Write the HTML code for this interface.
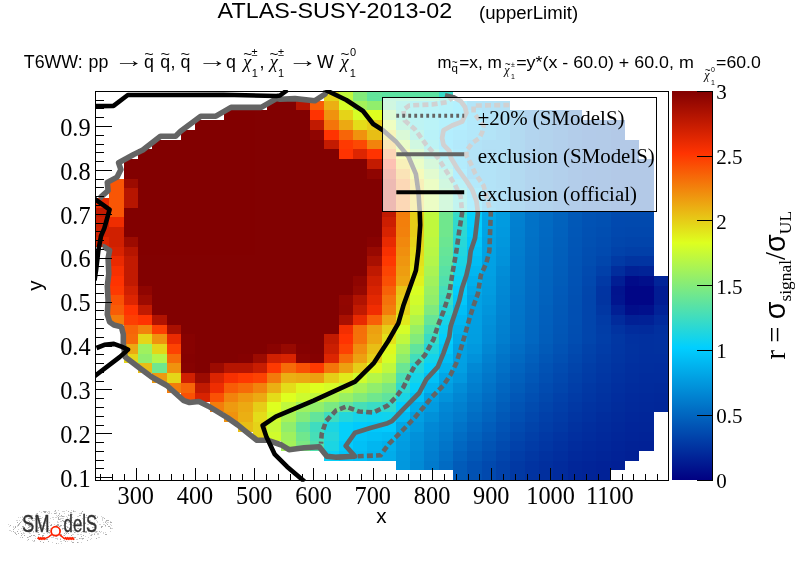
<!DOCTYPE html>
<html><head><meta charset="utf-8"><title>ATLAS-SUSY-2013-02 upperLimit</title>
<style>html,body{margin:0;padding:0;background:#fff}svg{display:block;will-change:transform;opacity:0.9999}.ser{font-family:"Liberation Serif","DejaVu Serif",serif}.san{font-family:"Liberation Sans","DejaVu Sans",sans-serif}</style></head><body>
<svg width="796" height="572" viewBox="0 0 796 572">
<rect x="0" y="0" width="796" height="572" fill="#ffffff"/>
<defs><clipPath id="cp"><rect x="95.0" y="89.9" width="574.0" height="391.8"/></clipPath>
<linearGradient id="pal" x1="0" y1="1" x2="0" y2="0"><stop offset="0" stop-color="#000082"/><stop offset="0.34" stop-color="#00cfff"/><stop offset="0.61" stop-color="#deff1f"/><stop offset="0.84" stop-color="#ff3300"/><stop offset="1" stop-color="#820000"/></linearGradient></defs>
<g shape-rendering="crispEdges">
<rect x="324" y="91" width="15" height="10" fill="#e5d318"/>
<rect x="339" y="91" width="14" height="10" fill="#c0f83d"/>
<rect x="353" y="91" width="14" height="10" fill="#83eb7a"/>
<rect x="367" y="91" width="15" height="10" fill="#63e49b"/>
<rect x="382" y="91" width="57" height="10" fill="#5de3a1"/>
<rect x="439" y="91" width="14" height="10" fill="#37dbc8"/>
<rect x="267" y="101" width="29" height="9" fill="#820000"/>
<rect x="296" y="101" width="14" height="9" fill="#b61500"/>
<rect x="310" y="101" width="14" height="9" fill="#f85c06"/>
<rect x="324" y="101" width="15" height="9" fill="#ebaf13"/>
<rect x="339" y="101" width="14" height="9" fill="#d6fd27"/>
<rect x="353" y="101" width="14" height="9" fill="#a4f259"/>
<rect x="367" y="101" width="15" height="9" fill="#91ee6c"/>
<rect x="382" y="101" width="14" height="9" fill="#63e49b"/>
<rect x="396" y="101" width="14" height="9" fill="#37dbc8"/>
<rect x="410" y="101" width="14" height="9" fill="#24d6db"/>
<rect x="424" y="101" width="15" height="9" fill="#1bd5e3"/>
<rect x="439" y="101" width="14" height="9" fill="#10d2ee"/>
<rect x="453" y="101" width="14" height="9" fill="#03cffc"/>
<rect x="467" y="101" width="15" height="9" fill="#00a8e8"/>
<rect x="482" y="101" width="14" height="9" fill="#00a2e4"/>
<rect x="496" y="101" width="14" height="9" fill="#009ee2"/>
<rect x="224" y="110" width="86" height="10" fill="#820000"/>
<rect x="310" y="110" width="14" height="10" fill="#ff3300"/>
<rect x="324" y="110" width="15" height="10" fill="#f0920e"/>
<rect x="339" y="110" width="14" height="10" fill="#e5d318"/>
<rect x="353" y="110" width="14" height="10" fill="#d6fd27"/>
<rect x="367" y="110" width="15" height="10" fill="#deff1f"/>
<rect x="382" y="110" width="14" height="10" fill="#91ee6c"/>
<rect x="396" y="110" width="14" height="10" fill="#3fdcbf"/>
<rect x="410" y="110" width="14" height="10" fill="#24d6db"/>
<rect x="424" y="110" width="15" height="10" fill="#16d3e9"/>
<rect x="439" y="110" width="14" height="10" fill="#0ed2f1"/>
<rect x="453" y="110" width="14" height="10" fill="#03cffc"/>
<rect x="467" y="110" width="15" height="10" fill="#00bcf4"/>
<rect x="482" y="110" width="14" height="10" fill="#00a2e4"/>
<rect x="496" y="110" width="14" height="10" fill="#0096dd"/>
<rect x="510" y="110" width="15" height="10" fill="#0082d0"/>
<rect x="525" y="110" width="14" height="10" fill="#0073c8"/>
<rect x="539" y="110" width="14" height="10" fill="#006bc3"/>
<rect x="553" y="110" width="15" height="10" fill="#0063be"/>
<rect x="568" y="110" width="14" height="10" fill="#0059b8"/>
<rect x="195" y="120" width="115" height="10" fill="#820000"/>
<rect x="310" y="120" width="14" height="10" fill="#c11a00"/>
<rect x="324" y="120" width="15" height="10" fill="#f4740a"/>
<rect x="339" y="120" width="14" height="10" fill="#eca912"/>
<rect x="353" y="120" width="14" height="10" fill="#e4dc19"/>
<rect x="367" y="120" width="15" height="10" fill="#e6cd17"/>
<rect x="382" y="120" width="14" height="10" fill="#c8fa35"/>
<rect x="396" y="120" width="14" height="10" fill="#55e1a9"/>
<rect x="410" y="120" width="14" height="10" fill="#26d7d8"/>
<rect x="424" y="120" width="15" height="10" fill="#1bd5e3"/>
<rect x="439" y="120" width="14" height="10" fill="#0bd1f4"/>
<rect x="453" y="120" width="14" height="10" fill="#00c6fa"/>
<rect x="467" y="120" width="15" height="10" fill="#00b6f0"/>
<rect x="482" y="120" width="14" height="10" fill="#00a4e5"/>
<rect x="496" y="120" width="14" height="10" fill="#0098de"/>
<rect x="510" y="120" width="15" height="10" fill="#0082d0"/>
<rect x="525" y="120" width="14" height="10" fill="#0073c8"/>
<rect x="539" y="120" width="14" height="10" fill="#006bc3"/>
<rect x="553" y="120" width="15" height="10" fill="#0063be"/>
<rect x="568" y="120" width="14" height="10" fill="#0059b8"/>
<rect x="582" y="120" width="14" height="10" fill="#0053b4"/>
<rect x="596" y="120" width="15" height="10" fill="#0051b3"/>
<rect x="611" y="120" width="14" height="10" fill="#004baf"/>
<rect x="181" y="130" width="129" height="10" fill="#820000"/>
<rect x="310" y="130" width="14" height="10" fill="#8f0500"/>
<rect x="324" y="130" width="15" height="10" fill="#ff3300"/>
<rect x="339" y="130" width="14" height="10" fill="#f76508"/>
<rect x="353" y="130" width="14" height="10" fill="#f0920e"/>
<rect x="367" y="130" width="15" height="10" fill="#e8be15"/>
<rect x="382" y="130" width="14" height="10" fill="#e4dc19"/>
<rect x="396" y="130" width="14" height="10" fill="#83eb7a"/>
<rect x="410" y="130" width="14" height="10" fill="#3fdcbf"/>
<rect x="424" y="130" width="15" height="10" fill="#16d3e9"/>
<rect x="439" y="130" width="14" height="10" fill="#00c6fa"/>
<rect x="453" y="130" width="14" height="10" fill="#00bcf4"/>
<rect x="467" y="130" width="15" height="10" fill="#00b2ee"/>
<rect x="482" y="130" width="14" height="10" fill="#00a4e5"/>
<rect x="496" y="130" width="14" height="10" fill="#0098de"/>
<rect x="510" y="130" width="15" height="10" fill="#0082d0"/>
<rect x="525" y="130" width="14" height="10" fill="#0073c8"/>
<rect x="539" y="130" width="14" height="10" fill="#006bc3"/>
<rect x="553" y="130" width="15" height="10" fill="#0063be"/>
<rect x="568" y="130" width="14" height="10" fill="#0059b8"/>
<rect x="582" y="130" width="14" height="10" fill="#0053b4"/>
<rect x="596" y="130" width="15" height="10" fill="#0051b3"/>
<rect x="611" y="130" width="14" height="10" fill="#004baf"/>
<rect x="152" y="140" width="172" height="9" fill="#820000"/>
<rect x="324" y="140" width="15" height="9" fill="#c31b00"/>
<rect x="339" y="140" width="14" height="9" fill="#fe3901"/>
<rect x="353" y="140" width="14" height="9" fill="#fc4803"/>
<rect x="367" y="140" width="15" height="9" fill="#f2830c"/>
<rect x="382" y="140" width="14" height="9" fill="#ebaf13"/>
<rect x="396" y="140" width="14" height="9" fill="#b5f648"/>
<rect x="410" y="140" width="14" height="9" fill="#63e49b"/>
<rect x="424" y="140" width="15" height="9" fill="#24d6db"/>
<rect x="439" y="140" width="14" height="9" fill="#00c6fa"/>
<rect x="453" y="140" width="14" height="9" fill="#00b6f0"/>
<rect x="467" y="140" width="15" height="9" fill="#00a2e4"/>
<rect x="482" y="140" width="14" height="9" fill="#0096dd"/>
<rect x="496" y="140" width="14" height="9" fill="#0098de"/>
<rect x="510" y="140" width="15" height="9" fill="#0082d0"/>
<rect x="525" y="140" width="14" height="9" fill="#0073c8"/>
<rect x="539" y="140" width="14" height="9" fill="#006bc3"/>
<rect x="553" y="140" width="15" height="9" fill="#0063be"/>
<rect x="568" y="140" width="14" height="9" fill="#0059b8"/>
<rect x="582" y="140" width="14" height="9" fill="#0053b4"/>
<rect x="596" y="140" width="15" height="9" fill="#0051b3"/>
<rect x="611" y="140" width="28" height="9" fill="#004baf"/>
<rect x="138" y="149" width="201" height="10" fill="#820000"/>
<rect x="339" y="149" width="14" height="10" fill="#ff3300"/>
<rect x="353" y="149" width="14" height="10" fill="#dd2500"/>
<rect x="367" y="149" width="15" height="10" fill="#ff3300"/>
<rect x="382" y="149" width="14" height="10" fill="#f4740a"/>
<rect x="396" y="149" width="14" height="10" fill="#dff91e"/>
<rect x="410" y="149" width="14" height="10" fill="#91ee6c"/>
<rect x="424" y="149" width="15" height="10" fill="#47deb7"/>
<rect x="439" y="149" width="14" height="10" fill="#10d2ee"/>
<rect x="453" y="149" width="14" height="10" fill="#00bcf4"/>
<rect x="467" y="149" width="15" height="10" fill="#00a2e4"/>
<rect x="482" y="149" width="14" height="10" fill="#0094db"/>
<rect x="496" y="149" width="14" height="10" fill="#0098de"/>
<rect x="510" y="149" width="15" height="10" fill="#0082d0"/>
<rect x="525" y="149" width="14" height="10" fill="#0073c8"/>
<rect x="539" y="149" width="14" height="10" fill="#006bc3"/>
<rect x="553" y="149" width="15" height="10" fill="#0063be"/>
<rect x="568" y="149" width="14" height="10" fill="#0059b8"/>
<rect x="582" y="149" width="14" height="10" fill="#0053b4"/>
<rect x="596" y="149" width="15" height="10" fill="#0051b3"/>
<rect x="611" y="149" width="28" height="10" fill="#004baf"/>
<rect x="124" y="159" width="243" height="10" fill="#820000"/>
<rect x="367" y="159" width="15" height="10" fill="#c31b00"/>
<rect x="382" y="159" width="14" height="10" fill="#f73000"/>
<rect x="396" y="159" width="14" height="10" fill="#e6cd17"/>
<rect x="410" y="159" width="14" height="10" fill="#baf743"/>
<rect x="424" y="159" width="15" height="10" fill="#76e888"/>
<rect x="439" y="159" width="14" height="10" fill="#29d8d5"/>
<rect x="453" y="159" width="14" height="10" fill="#00bcf4"/>
<rect x="467" y="159" width="29" height="10" fill="#00a2e4"/>
<rect x="496" y="159" width="14" height="10" fill="#0098de"/>
<rect x="510" y="159" width="15" height="10" fill="#0082d0"/>
<rect x="525" y="159" width="14" height="10" fill="#0073c8"/>
<rect x="539" y="159" width="14" height="10" fill="#006bc3"/>
<rect x="553" y="159" width="15" height="10" fill="#0063be"/>
<rect x="568" y="159" width="14" height="10" fill="#0059b8"/>
<rect x="582" y="159" width="14" height="10" fill="#0053b4"/>
<rect x="596" y="159" width="15" height="10" fill="#0051b3"/>
<rect x="611" y="159" width="43" height="10" fill="#004baf"/>
<rect x="124" y="169" width="243" height="10" fill="#820000"/>
<rect x="367" y="169" width="15" height="10" fill="#8f0500"/>
<rect x="382" y="169" width="14" height="10" fill="#d52200"/>
<rect x="396" y="169" width="14" height="10" fill="#eda010"/>
<rect x="410" y="169" width="14" height="10" fill="#e0f01c"/>
<rect x="424" y="169" width="15" height="10" fill="#9ff15e"/>
<rect x="439" y="169" width="14" height="10" fill="#51e0ad"/>
<rect x="453" y="169" width="14" height="10" fill="#00cafd"/>
<rect x="467" y="169" width="29" height="10" fill="#00a2e4"/>
<rect x="496" y="169" width="14" height="10" fill="#0098de"/>
<rect x="510" y="169" width="15" height="10" fill="#0082d0"/>
<rect x="525" y="169" width="14" height="10" fill="#0073c8"/>
<rect x="539" y="169" width="14" height="10" fill="#006bc3"/>
<rect x="553" y="169" width="15" height="10" fill="#0063be"/>
<rect x="568" y="169" width="14" height="10" fill="#0059b8"/>
<rect x="582" y="169" width="14" height="10" fill="#0053b4"/>
<rect x="596" y="169" width="15" height="10" fill="#0051b3"/>
<rect x="611" y="169" width="43" height="10" fill="#004baf"/>
<rect x="109" y="179" width="15" height="9" fill="#f95605"/>
<rect x="124" y="179" width="14" height="9" fill="#9c0b00"/>
<rect x="138" y="179" width="244" height="9" fill="#820000"/>
<rect x="382" y="179" width="14" height="9" fill="#c11a00"/>
<rect x="396" y="179" width="14" height="9" fill="#f37d0b"/>
<rect x="410" y="179" width="14" height="9" fill="#e6cd17"/>
<rect x="424" y="179" width="15" height="9" fill="#c0f83d"/>
<rect x="439" y="179" width="14" height="9" fill="#67e597"/>
<rect x="453" y="179" width="14" height="9" fill="#19d4e6"/>
<rect x="467" y="179" width="15" height="9" fill="#00b6f0"/>
<rect x="482" y="179" width="14" height="9" fill="#00a2e4"/>
<rect x="496" y="179" width="14" height="9" fill="#0098de"/>
<rect x="510" y="179" width="15" height="9" fill="#0082d0"/>
<rect x="525" y="179" width="14" height="9" fill="#0073c8"/>
<rect x="539" y="179" width="14" height="9" fill="#006bc3"/>
<rect x="553" y="179" width="15" height="9" fill="#0063be"/>
<rect x="568" y="179" width="14" height="9" fill="#0059b8"/>
<rect x="582" y="179" width="14" height="9" fill="#0053b4"/>
<rect x="596" y="179" width="15" height="9" fill="#0051b3"/>
<rect x="611" y="179" width="43" height="9" fill="#004baf"/>
<rect x="109" y="188" width="15" height="10" fill="#f95605"/>
<rect x="124" y="188" width="14" height="10" fill="#b61500"/>
<rect x="138" y="188" width="244" height="10" fill="#820000"/>
<rect x="382" y="188" width="14" height="10" fill="#c11a00"/>
<rect x="396" y="188" width="14" height="10" fill="#f37d0b"/>
<rect x="410" y="188" width="14" height="10" fill="#e6cd17"/>
<rect x="424" y="188" width="15" height="10" fill="#c0f83d"/>
<rect x="439" y="188" width="14" height="10" fill="#70e78d"/>
<rect x="453" y="188" width="14" height="10" fill="#2cd8d3"/>
<rect x="467" y="188" width="15" height="10" fill="#00c5f9"/>
<rect x="482" y="188" width="14" height="10" fill="#00a2e4"/>
<rect x="496" y="188" width="14" height="10" fill="#0099df"/>
<rect x="510" y="188" width="15" height="10" fill="#0082d0"/>
<rect x="525" y="188" width="14" height="10" fill="#0073c8"/>
<rect x="539" y="188" width="14" height="10" fill="#006bc3"/>
<rect x="553" y="188" width="15" height="10" fill="#0063be"/>
<rect x="568" y="188" width="14" height="10" fill="#0059b8"/>
<rect x="582" y="188" width="14" height="10" fill="#0053b4"/>
<rect x="596" y="188" width="15" height="10" fill="#0051b3"/>
<rect x="611" y="188" width="43" height="10" fill="#004baf"/>
<rect x="95" y="198" width="14" height="10" fill="#ea2a00"/>
<rect x="109" y="198" width="15" height="10" fill="#f95605"/>
<rect x="124" y="198" width="14" height="10" fill="#b61500"/>
<rect x="138" y="198" width="244" height="10" fill="#820000"/>
<rect x="382" y="198" width="14" height="10" fill="#c11a00"/>
<rect x="396" y="198" width="14" height="10" fill="#f37d0b"/>
<rect x="410" y="198" width="14" height="10" fill="#e6cd17"/>
<rect x="424" y="198" width="15" height="10" fill="#c0f83d"/>
<rect x="439" y="198" width="14" height="10" fill="#70e78d"/>
<rect x="453" y="198" width="14" height="10" fill="#31d9cd"/>
<rect x="467" y="198" width="15" height="10" fill="#00ceff"/>
<rect x="482" y="198" width="14" height="10" fill="#00a2e4"/>
<rect x="496" y="198" width="14" height="10" fill="#009be0"/>
<rect x="510" y="198" width="15" height="10" fill="#0082d0"/>
<rect x="525" y="198" width="14" height="10" fill="#0073c8"/>
<rect x="539" y="198" width="14" height="10" fill="#006bc3"/>
<rect x="553" y="198" width="15" height="10" fill="#0063be"/>
<rect x="568" y="198" width="14" height="10" fill="#0059b8"/>
<rect x="582" y="198" width="14" height="10" fill="#0053b4"/>
<rect x="596" y="198" width="15" height="10" fill="#0051b3"/>
<rect x="611" y="198" width="43" height="10" fill="#004baf"/>
<rect x="95" y="208" width="14" height="9" fill="#c11a00"/>
<rect x="109" y="208" width="15" height="9" fill="#f95605"/>
<rect x="124" y="208" width="258" height="9" fill="#820000"/>
<rect x="382" y="208" width="14" height="9" fill="#c11a00"/>
<rect x="396" y="208" width="14" height="9" fill="#f37d0b"/>
<rect x="410" y="208" width="14" height="9" fill="#e6cd17"/>
<rect x="424" y="208" width="15" height="9" fill="#c0f83d"/>
<rect x="439" y="208" width="14" height="9" fill="#70e78d"/>
<rect x="453" y="208" width="14" height="9" fill="#37dbc7"/>
<rect x="467" y="208" width="15" height="9" fill="#04d0fa"/>
<rect x="482" y="208" width="14" height="9" fill="#00a7e7"/>
<rect x="496" y="208" width="14" height="9" fill="#009ce0"/>
<rect x="510" y="208" width="15" height="9" fill="#0082d0"/>
<rect x="525" y="208" width="14" height="9" fill="#0073c8"/>
<rect x="539" y="208" width="14" height="9" fill="#006bc3"/>
<rect x="553" y="208" width="15" height="9" fill="#0063be"/>
<rect x="568" y="208" width="14" height="9" fill="#0059b8"/>
<rect x="582" y="208" width="14" height="9" fill="#0053b4"/>
<rect x="596" y="208" width="15" height="9" fill="#0051b3"/>
<rect x="611" y="208" width="43" height="9" fill="#004baf"/>
<rect x="95" y="217" width="14" height="10" fill="#cb1e00"/>
<rect x="109" y="217" width="15" height="10" fill="#ef2d00"/>
<rect x="124" y="217" width="258" height="10" fill="#820000"/>
<rect x="382" y="217" width="14" height="10" fill="#cc1e00"/>
<rect x="396" y="217" width="14" height="10" fill="#f37f0b"/>
<rect x="410" y="217" width="14" height="10" fill="#e6cd17"/>
<rect x="424" y="217" width="15" height="10" fill="#c0f83d"/>
<rect x="439" y="217" width="14" height="10" fill="#70e78d"/>
<rect x="453" y="217" width="14" height="10" fill="#31d9cd"/>
<rect x="467" y="217" width="15" height="10" fill="#01cffe"/>
<rect x="482" y="217" width="14" height="10" fill="#00a5e6"/>
<rect x="496" y="217" width="14" height="10" fill="#009be0"/>
<rect x="510" y="217" width="15" height="10" fill="#0080d0"/>
<rect x="525" y="217" width="14" height="10" fill="#0072c7"/>
<rect x="539" y="217" width="14" height="10" fill="#006ac2"/>
<rect x="553" y="217" width="15" height="10" fill="#0062bd"/>
<rect x="568" y="217" width="14" height="10" fill="#0058b7"/>
<rect x="582" y="217" width="14" height="10" fill="#0052b4"/>
<rect x="596" y="217" width="15" height="10" fill="#0050b2"/>
<rect x="611" y="217" width="14" height="10" fill="#0049af"/>
<rect x="625" y="217" width="29" height="10" fill="#0049ae"/>
<rect x="95" y="227" width="29" height="10" fill="#d02000"/>
<rect x="124" y="227" width="258" height="10" fill="#820000"/>
<rect x="382" y="227" width="14" height="10" fill="#d72300"/>
<rect x="396" y="227" width="14" height="10" fill="#f2810c"/>
<rect x="410" y="227" width="14" height="10" fill="#e6cd17"/>
<rect x="424" y="227" width="15" height="10" fill="#c0f83d"/>
<rect x="439" y="227" width="14" height="10" fill="#70e78d"/>
<rect x="453" y="227" width="14" height="10" fill="#2dd8d2"/>
<rect x="467" y="227" width="15" height="10" fill="#00ccfe"/>
<rect x="482" y="227" width="14" height="10" fill="#00a4e5"/>
<rect x="496" y="227" width="14" height="10" fill="#0099df"/>
<rect x="510" y="227" width="15" height="10" fill="#007fcf"/>
<rect x="525" y="227" width="14" height="10" fill="#0072c7"/>
<rect x="539" y="227" width="14" height="10" fill="#0069c2"/>
<rect x="553" y="227" width="15" height="10" fill="#0061bd"/>
<rect x="568" y="227" width="14" height="10" fill="#0057b7"/>
<rect x="582" y="227" width="14" height="10" fill="#0051b3"/>
<rect x="596" y="227" width="15" height="10" fill="#004eb1"/>
<rect x="611" y="227" width="14" height="10" fill="#0048ae"/>
<rect x="625" y="227" width="29" height="10" fill="#0047ad"/>
<rect x="95" y="237" width="14" height="10" fill="#e02600"/>
<rect x="109" y="237" width="15" height="10" fill="#d02000"/>
<rect x="124" y="237" width="14" height="10" fill="#9c0b00"/>
<rect x="138" y="237" width="229" height="10" fill="#820000"/>
<rect x="367" y="237" width="15" height="10" fill="#880200"/>
<rect x="382" y="237" width="14" height="10" fill="#e82a00"/>
<rect x="396" y="237" width="14" height="10" fill="#f1880d"/>
<rect x="410" y="237" width="14" height="10" fill="#e5d318"/>
<rect x="424" y="237" width="15" height="10" fill="#bcf841"/>
<rect x="439" y="237" width="14" height="10" fill="#6be692"/>
<rect x="453" y="237" width="14" height="10" fill="#27d7d7"/>
<rect x="467" y="237" width="15" height="10" fill="#00c7fa"/>
<rect x="482" y="237" width="14" height="10" fill="#00a2e4"/>
<rect x="496" y="237" width="14" height="10" fill="#0097dd"/>
<rect x="510" y="237" width="15" height="10" fill="#007ece"/>
<rect x="525" y="237" width="14" height="10" fill="#0071c6"/>
<rect x="539" y="237" width="14" height="10" fill="#0068c1"/>
<rect x="553" y="237" width="15" height="10" fill="#0060bc"/>
<rect x="568" y="237" width="14" height="10" fill="#0056b6"/>
<rect x="582" y="237" width="14" height="10" fill="#0050b2"/>
<rect x="596" y="237" width="15" height="10" fill="#004cb0"/>
<rect x="611" y="237" width="14" height="10" fill="#0046ac"/>
<rect x="625" y="237" width="29" height="10" fill="#0044ab"/>
<rect x="109" y="247" width="15" height="9" fill="#d82300"/>
<rect x="124" y="247" width="14" height="9" fill="#b61500"/>
<rect x="138" y="247" width="229" height="9" fill="#820000"/>
<rect x="367" y="247" width="15" height="9" fill="#980900"/>
<rect x="382" y="247" width="14" height="9" fill="#f73000"/>
<rect x="396" y="247" width="14" height="9" fill="#f08f0e"/>
<rect x="410" y="247" width="14" height="9" fill="#e4da19"/>
<rect x="424" y="247" width="15" height="9" fill="#b8f745"/>
<rect x="439" y="247" width="14" height="9" fill="#66e598"/>
<rect x="453" y="247" width="14" height="9" fill="#22d6dd"/>
<rect x="467" y="247" width="15" height="9" fill="#00c2f7"/>
<rect x="482" y="247" width="14" height="9" fill="#00a2e4"/>
<rect x="496" y="247" width="14" height="9" fill="#0094dc"/>
<rect x="510" y="247" width="15" height="9" fill="#007dcd"/>
<rect x="525" y="247" width="14" height="9" fill="#0070c6"/>
<rect x="539" y="247" width="14" height="9" fill="#0067c0"/>
<rect x="553" y="247" width="15" height="9" fill="#005fbb"/>
<rect x="568" y="247" width="14" height="9" fill="#0055b6"/>
<rect x="582" y="247" width="14" height="9" fill="#004eb1"/>
<rect x="596" y="247" width="15" height="9" fill="#004aaf"/>
<rect x="611" y="247" width="14" height="9" fill="#0042aa"/>
<rect x="625" y="247" width="29" height="9" fill="#003fa8"/>
<rect x="109" y="256" width="15" height="10" fill="#ea2a00"/>
<rect x="124" y="256" width="14" height="10" fill="#c11a00"/>
<rect x="138" y="256" width="229" height="10" fill="#820000"/>
<rect x="367" y="256" width="15" height="10" fill="#a81000"/>
<rect x="382" y="256" width="14" height="10" fill="#fe3801"/>
<rect x="396" y="256" width="14" height="10" fill="#ef960f"/>
<rect x="410" y="256" width="14" height="10" fill="#e3e01a"/>
<rect x="424" y="256" width="15" height="10" fill="#b3f64a"/>
<rect x="439" y="256" width="14" height="10" fill="#61e49d"/>
<rect x="453" y="256" width="14" height="10" fill="#1bd5e3"/>
<rect x="467" y="256" width="15" height="10" fill="#00bdf4"/>
<rect x="482" y="256" width="14" height="10" fill="#00a1e4"/>
<rect x="496" y="256" width="14" height="10" fill="#0092da"/>
<rect x="510" y="256" width="15" height="10" fill="#007bcd"/>
<rect x="525" y="256" width="14" height="10" fill="#006fc5"/>
<rect x="539" y="256" width="14" height="10" fill="#0066c0"/>
<rect x="553" y="256" width="15" height="10" fill="#005ebb"/>
<rect x="568" y="256" width="14" height="10" fill="#0054b5"/>
<rect x="582" y="256" width="14" height="10" fill="#004db0"/>
<rect x="596" y="256" width="15" height="10" fill="#0046ac"/>
<rect x="611" y="256" width="14" height="10" fill="#003aa5"/>
<rect x="625" y="256" width="14" height="10" fill="#0034a1"/>
<rect x="639" y="256" width="15" height="10" fill="#0034a2"/>
<rect x="109" y="266" width="15" height="10" fill="#f73000"/>
<rect x="124" y="266" width="14" height="10" fill="#c11a00"/>
<rect x="138" y="266" width="229" height="10" fill="#820000"/>
<rect x="367" y="266" width="15" height="10" fill="#bf1900"/>
<rect x="382" y="266" width="14" height="10" fill="#fc4403"/>
<rect x="396" y="266" width="14" height="10" fill="#ee9d10"/>
<rect x="410" y="266" width="14" height="10" fill="#e1e91b"/>
<rect x="424" y="266" width="15" height="10" fill="#aaf453"/>
<rect x="439" y="266" width="14" height="10" fill="#59e2a5"/>
<rect x="453" y="266" width="14" height="10" fill="#13d3ec"/>
<rect x="467" y="266" width="15" height="10" fill="#00b6f0"/>
<rect x="482" y="266" width="14" height="10" fill="#00a0e3"/>
<rect x="496" y="266" width="14" height="10" fill="#008dd7"/>
<rect x="510" y="266" width="15" height="10" fill="#007acc"/>
<rect x="525" y="266" width="14" height="10" fill="#006ec4"/>
<rect x="539" y="266" width="14" height="10" fill="#0065bf"/>
<rect x="553" y="266" width="15" height="10" fill="#005dba"/>
<rect x="568" y="266" width="14" height="10" fill="#0053b4"/>
<rect x="582" y="266" width="14" height="10" fill="#004aaf"/>
<rect x="596" y="266" width="15" height="10" fill="#0040a9"/>
<rect x="611" y="266" width="14" height="10" fill="#002d9d"/>
<rect x="625" y="266" width="14" height="10" fill="#002196"/>
<rect x="639" y="266" width="15" height="10" fill="#002397"/>
<rect x="109" y="276" width="15" height="10" fill="#ff3300"/>
<rect x="124" y="276" width="14" height="10" fill="#c11a00"/>
<rect x="138" y="276" width="215" height="10" fill="#820000"/>
<rect x="353" y="276" width="14" height="10" fill="#8f0500"/>
<rect x="367" y="276" width="15" height="10" fill="#ce1f00"/>
<rect x="382" y="276" width="14" height="10" fill="#fa4f04"/>
<rect x="396" y="276" width="14" height="10" fill="#eda511"/>
<rect x="410" y="276" width="14" height="10" fill="#e0f21d"/>
<rect x="424" y="276" width="15" height="10" fill="#a1f25c"/>
<rect x="439" y="276" width="14" height="10" fill="#51e0ad"/>
<rect x="453" y="276" width="14" height="10" fill="#0ad1f5"/>
<rect x="467" y="276" width="15" height="10" fill="#00afec"/>
<rect x="482" y="276" width="14" height="10" fill="#009ee1"/>
<rect x="496" y="276" width="14" height="10" fill="#008ad5"/>
<rect x="510" y="276" width="15" height="10" fill="#0079cb"/>
<rect x="525" y="276" width="14" height="10" fill="#006dc4"/>
<rect x="539" y="276" width="14" height="10" fill="#0064be"/>
<rect x="553" y="276" width="15" height="10" fill="#005cb9"/>
<rect x="568" y="276" width="14" height="10" fill="#0052b4"/>
<rect x="582" y="276" width="14" height="10" fill="#0048ae"/>
<rect x="596" y="276" width="15" height="10" fill="#0039a5"/>
<rect x="611" y="276" width="14" height="10" fill="#001e94"/>
<rect x="625" y="276" width="14" height="10" fill="#000b89"/>
<rect x="639" y="276" width="15" height="10" fill="#000f8b"/>
<rect x="654" y="276" width="14" height="10" fill="#002498"/>
<rect x="109" y="286" width="15" height="9" fill="#fe3901"/>
<rect x="124" y="286" width="14" height="9" fill="#d02000"/>
<rect x="138" y="286" width="14" height="9" fill="#8f0500"/>
<rect x="152" y="286" width="201" height="9" fill="#820000"/>
<rect x="353" y="286" width="14" height="9" fill="#950800"/>
<rect x="367" y="286" width="15" height="9" fill="#d82300"/>
<rect x="382" y="286" width="14" height="9" fill="#f76107"/>
<rect x="396" y="286" width="14" height="9" fill="#e8c316"/>
<rect x="410" y="286" width="14" height="9" fill="#d9fe23"/>
<rect x="424" y="286" width="15" height="9" fill="#98f065"/>
<rect x="439" y="286" width="14" height="9" fill="#45deba"/>
<rect x="453" y="286" width="14" height="9" fill="#00cdfe"/>
<rect x="467" y="286" width="15" height="9" fill="#00a9e8"/>
<rect x="482" y="286" width="14" height="9" fill="#009ce0"/>
<rect x="496" y="286" width="14" height="9" fill="#0088d4"/>
<rect x="510" y="286" width="15" height="9" fill="#0078ca"/>
<rect x="525" y="286" width="14" height="9" fill="#006cc3"/>
<rect x="539" y="286" width="14" height="9" fill="#0063be"/>
<rect x="553" y="286" width="15" height="9" fill="#005ab9"/>
<rect x="568" y="286" width="14" height="9" fill="#0051b3"/>
<rect x="582" y="286" width="14" height="9" fill="#0046ac"/>
<rect x="596" y="286" width="15" height="9" fill="#0034a2"/>
<rect x="611" y="286" width="14" height="9" fill="#00148e"/>
<rect x="625" y="286" width="29" height="9" fill="#000686"/>
<rect x="654" y="286" width="14" height="9" fill="#001c93"/>
<rect x="109" y="295" width="15" height="10" fill="#fa5104"/>
<rect x="124" y="295" width="14" height="10" fill="#dd2500"/>
<rect x="138" y="295" width="14" height="10" fill="#9c0b00"/>
<rect x="152" y="295" width="187" height="10" fill="#820000"/>
<rect x="339" y="295" width="14" height="10" fill="#920600"/>
<rect x="353" y="295" width="14" height="10" fill="#b11300"/>
<rect x="367" y="295" width="15" height="10" fill="#e32800"/>
<rect x="382" y="295" width="14" height="10" fill="#f5720a"/>
<rect x="396" y="295" width="14" height="10" fill="#e6cd17"/>
<rect x="410" y="295" width="14" height="10" fill="#d1fc2b"/>
<rect x="424" y="295" width="15" height="10" fill="#91ee6c"/>
<rect x="439" y="295" width="14" height="10" fill="#3cdcc3"/>
<rect x="453" y="295" width="14" height="10" fill="#00c7fa"/>
<rect x="467" y="295" width="15" height="10" fill="#00a2e4"/>
<rect x="482" y="295" width="14" height="10" fill="#0099de"/>
<rect x="496" y="295" width="14" height="10" fill="#0086d3"/>
<rect x="510" y="295" width="15" height="10" fill="#0076ca"/>
<rect x="525" y="295" width="14" height="10" fill="#006bc3"/>
<rect x="539" y="295" width="14" height="10" fill="#0062bd"/>
<rect x="553" y="295" width="15" height="10" fill="#0059b8"/>
<rect x="568" y="295" width="14" height="10" fill="#0050b2"/>
<rect x="582" y="295" width="14" height="10" fill="#0045ac"/>
<rect x="596" y="295" width="15" height="10" fill="#0034a1"/>
<rect x="611" y="295" width="14" height="10" fill="#00158f"/>
<rect x="625" y="295" width="29" height="10" fill="#000686"/>
<rect x="654" y="295" width="14" height="10" fill="#001c93"/>
<rect x="109" y="305" width="15" height="10" fill="#f85c06"/>
<rect x="124" y="305" width="14" height="10" fill="#ff3300"/>
<rect x="138" y="305" width="14" height="10" fill="#c11a00"/>
<rect x="152" y="305" width="187" height="10" fill="#820000"/>
<rect x="339" y="305" width="14" height="10" fill="#900600"/>
<rect x="353" y="305" width="14" height="10" fill="#c11a00"/>
<rect x="367" y="305" width="15" height="10" fill="#f12d00"/>
<rect x="382" y="305" width="14" height="10" fill="#f37d0b"/>
<rect x="396" y="305" width="14" height="10" fill="#e5d418"/>
<rect x="410" y="305" width="14" height="10" fill="#c6fa37"/>
<rect x="424" y="305" width="15" height="10" fill="#7fea7f"/>
<rect x="439" y="305" width="14" height="10" fill="#27d7d8"/>
<rect x="453" y="305" width="14" height="10" fill="#00bef5"/>
<rect x="467" y="305" width="15" height="10" fill="#00a1e4"/>
<rect x="482" y="305" width="14" height="10" fill="#0095dc"/>
<rect x="496" y="305" width="14" height="10" fill="#0084d2"/>
<rect x="510" y="305" width="15" height="10" fill="#0075c9"/>
<rect x="525" y="305" width="14" height="10" fill="#006ac2"/>
<rect x="539" y="305" width="14" height="10" fill="#0060bc"/>
<rect x="553" y="305" width="15" height="10" fill="#0058b7"/>
<rect x="568" y="305" width="14" height="10" fill="#004fb2"/>
<rect x="582" y="305" width="14" height="10" fill="#0045ac"/>
<rect x="596" y="305" width="15" height="10" fill="#0037a3"/>
<rect x="611" y="305" width="14" height="10" fill="#001f95"/>
<rect x="625" y="305" width="14" height="10" fill="#000e8a"/>
<rect x="639" y="305" width="15" height="10" fill="#00108c"/>
<rect x="654" y="305" width="14" height="10" fill="#002297"/>
<rect x="109" y="315" width="15" height="10" fill="#f37d0b"/>
<rect x="124" y="315" width="14" height="10" fill="#fd3f02"/>
<rect x="138" y="315" width="14" height="10" fill="#ff3300"/>
<rect x="152" y="315" width="15" height="10" fill="#b11300"/>
<rect x="167" y="315" width="172" height="10" fill="#820000"/>
<rect x="339" y="315" width="14" height="10" fill="#a91000"/>
<rect x="353" y="315" width="14" height="10" fill="#e82a00"/>
<rect x="367" y="315" width="15" height="10" fill="#f85f07"/>
<rect x="382" y="315" width="14" height="10" fill="#eda511"/>
<rect x="396" y="315" width="14" height="10" fill="#e2e81b"/>
<rect x="410" y="315" width="14" height="10" fill="#b1f54c"/>
<rect x="424" y="315" width="15" height="10" fill="#67e597"/>
<rect x="439" y="315" width="14" height="10" fill="#18d4e7"/>
<rect x="453" y="315" width="14" height="10" fill="#00b7f1"/>
<rect x="467" y="315" width="15" height="10" fill="#00a0e3"/>
<rect x="482" y="315" width="14" height="10" fill="#0091da"/>
<rect x="496" y="315" width="14" height="10" fill="#0082d0"/>
<rect x="510" y="315" width="15" height="10" fill="#0074c8"/>
<rect x="525" y="315" width="14" height="10" fill="#0069c2"/>
<rect x="539" y="315" width="14" height="10" fill="#005fbc"/>
<rect x="553" y="315" width="15" height="10" fill="#0057b7"/>
<rect x="568" y="315" width="14" height="10" fill="#004fb2"/>
<rect x="582" y="315" width="14" height="10" fill="#0045ac"/>
<rect x="596" y="315" width="15" height="10" fill="#003ba6"/>
<rect x="611" y="315" width="14" height="10" fill="#002b9c"/>
<rect x="625" y="315" width="14" height="10" fill="#002095"/>
<rect x="639" y="315" width="15" height="10" fill="#002196"/>
<rect x="654" y="315" width="14" height="10" fill="#002a9c"/>
<rect x="124" y="325" width="14" height="9" fill="#f76508"/>
<rect x="138" y="325" width="14" height="9" fill="#f2830c"/>
<rect x="152" y="325" width="15" height="9" fill="#fd3f02"/>
<rect x="167" y="325" width="14" height="9" fill="#a91000"/>
<rect x="181" y="325" width="158" height="9" fill="#820000"/>
<rect x="339" y="325" width="14" height="9" fill="#f32e00"/>
<rect x="353" y="325" width="14" height="9" fill="#f56f09"/>
<rect x="367" y="325" width="15" height="9" fill="#eda010"/>
<rect x="382" y="325" width="14" height="9" fill="#e6cd17"/>
<rect x="396" y="325" width="14" height="9" fill="#d6fd27"/>
<rect x="410" y="325" width="14" height="9" fill="#98f065"/>
<rect x="424" y="325" width="15" height="9" fill="#4fe0af"/>
<rect x="439" y="325" width="14" height="9" fill="#0cd1f3"/>
<rect x="453" y="325" width="14" height="9" fill="#00b1ed"/>
<rect x="467" y="325" width="15" height="9" fill="#009fe2"/>
<rect x="482" y="325" width="14" height="9" fill="#008ed8"/>
<rect x="496" y="325" width="14" height="9" fill="#0080cf"/>
<rect x="510" y="325" width="15" height="9" fill="#0073c7"/>
<rect x="525" y="325" width="14" height="9" fill="#0068c1"/>
<rect x="539" y="325" width="14" height="9" fill="#005ebb"/>
<rect x="553" y="325" width="15" height="9" fill="#0056b6"/>
<rect x="568" y="325" width="14" height="9" fill="#004eb1"/>
<rect x="582" y="325" width="14" height="9" fill="#0045ac"/>
<rect x="596" y="325" width="15" height="9" fill="#003da7"/>
<rect x="611" y="325" width="14" height="9" fill="#0033a1"/>
<rect x="625" y="325" width="14" height="9" fill="#002c9d"/>
<rect x="639" y="325" width="15" height="9" fill="#002b9c"/>
<rect x="654" y="325" width="14" height="9" fill="#00309f"/>
<rect x="124" y="334" width="14" height="10" fill="#f66b08"/>
<rect x="138" y="334" width="14" height="10" fill="#e5d618"/>
<rect x="152" y="334" width="15" height="10" fill="#f0920e"/>
<rect x="167" y="334" width="14" height="10" fill="#ea2a00"/>
<rect x="181" y="334" width="14" height="10" fill="#870200"/>
<rect x="195" y="334" width="129" height="10" fill="#820000"/>
<rect x="324" y="334" width="15" height="10" fill="#c11a00"/>
<rect x="339" y="334" width="14" height="10" fill="#ff3300"/>
<rect x="353" y="334" width="14" height="10" fill="#f57109"/>
<rect x="367" y="334" width="15" height="10" fill="#eca711"/>
<rect x="382" y="334" width="14" height="10" fill="#e3e01a"/>
<rect x="396" y="334" width="14" height="10" fill="#c0f83d"/>
<rect x="410" y="334" width="14" height="10" fill="#83eb7b"/>
<rect x="424" y="334" width="15" height="10" fill="#39dbc5"/>
<rect x="439" y="334" width="14" height="10" fill="#02cffd"/>
<rect x="453" y="334" width="14" height="10" fill="#00aae9"/>
<rect x="467" y="334" width="15" height="10" fill="#009ee1"/>
<rect x="482" y="334" width="14" height="10" fill="#008cd7"/>
<rect x="496" y="334" width="14" height="10" fill="#007ece"/>
<rect x="510" y="334" width="15" height="10" fill="#0071c7"/>
<rect x="525" y="334" width="14" height="10" fill="#0067c1"/>
<rect x="539" y="334" width="14" height="10" fill="#005dba"/>
<rect x="553" y="334" width="15" height="10" fill="#0055b5"/>
<rect x="568" y="334" width="14" height="10" fill="#004db1"/>
<rect x="582" y="334" width="14" height="10" fill="#0045ac"/>
<rect x="596" y="334" width="15" height="10" fill="#003ea8"/>
<rect x="611" y="334" width="14" height="10" fill="#0037a3"/>
<rect x="625" y="334" width="14" height="10" fill="#0031a0"/>
<rect x="639" y="334" width="15" height="10" fill="#00309f"/>
<rect x="654" y="334" width="14" height="10" fill="#0031a0"/>
<rect x="124" y="344" width="14" height="10" fill="#eca912"/>
<rect x="138" y="344" width="14" height="10" fill="#9ff15e"/>
<rect x="152" y="344" width="15" height="10" fill="#e5d618"/>
<rect x="167" y="344" width="14" height="10" fill="#fd4202"/>
<rect x="181" y="344" width="14" height="10" fill="#870200"/>
<rect x="195" y="344" width="72" height="10" fill="#820000"/>
<rect x="267" y="344" width="14" height="10" fill="#8a0300"/>
<rect x="281" y="344" width="15" height="10" fill="#970900"/>
<rect x="296" y="344" width="14" height="10" fill="#850100"/>
<rect x="310" y="344" width="14" height="10" fill="#820000"/>
<rect x="324" y="344" width="15" height="10" fill="#cb1e00"/>
<rect x="339" y="344" width="14" height="10" fill="#fd4202"/>
<rect x="353" y="344" width="14" height="10" fill="#f18c0d"/>
<rect x="367" y="344" width="15" height="10" fill="#e8be15"/>
<rect x="382" y="344" width="14" height="10" fill="#dff91e"/>
<rect x="396" y="344" width="14" height="10" fill="#a2f25b"/>
<rect x="410" y="344" width="14" height="10" fill="#61e49d"/>
<rect x="424" y="344" width="15" height="10" fill="#24d7da"/>
<rect x="439" y="344" width="14" height="10" fill="#00c7fa"/>
<rect x="453" y="344" width="14" height="10" fill="#00a2e4"/>
<rect x="467" y="344" width="15" height="10" fill="#0099df"/>
<rect x="482" y="344" width="14" height="10" fill="#0087d3"/>
<rect x="496" y="344" width="14" height="10" fill="#0079cb"/>
<rect x="510" y="344" width="15" height="10" fill="#006dc4"/>
<rect x="525" y="344" width="14" height="10" fill="#0063be"/>
<rect x="539" y="344" width="14" height="10" fill="#005ab8"/>
<rect x="553" y="344" width="15" height="10" fill="#0052b4"/>
<rect x="568" y="344" width="14" height="10" fill="#004aaf"/>
<rect x="582" y="344" width="14" height="10" fill="#0042aa"/>
<rect x="596" y="344" width="15" height="10" fill="#003ca7"/>
<rect x="611" y="344" width="14" height="10" fill="#0036a3"/>
<rect x="625" y="344" width="14" height="10" fill="#0032a0"/>
<rect x="639" y="344" width="15" height="10" fill="#00309f"/>
<rect x="654" y="344" width="14" height="10" fill="#00319f"/>
<rect x="124" y="354" width="14" height="9" fill="#e5d618"/>
<rect x="138" y="354" width="14" height="9" fill="#91ee6c"/>
<rect x="152" y="354" width="15" height="9" fill="#b5f648"/>
<rect x="167" y="354" width="14" height="9" fill="#f66b08"/>
<rect x="181" y="354" width="14" height="9" fill="#850100"/>
<rect x="195" y="354" width="43" height="9" fill="#820000"/>
<rect x="238" y="354" width="15" height="9" fill="#850100"/>
<rect x="253" y="354" width="14" height="9" fill="#9c0b00"/>
<rect x="267" y="354" width="14" height="9" fill="#d02000"/>
<rect x="281" y="354" width="15" height="9" fill="#d82300"/>
<rect x="296" y="354" width="14" height="9" fill="#8a0300"/>
<rect x="310" y="354" width="14" height="9" fill="#850100"/>
<rect x="324" y="354" width="15" height="9" fill="#dd2500"/>
<rect x="339" y="354" width="14" height="9" fill="#f66b08"/>
<rect x="353" y="354" width="14" height="9" fill="#eda010"/>
<rect x="367" y="354" width="15" height="9" fill="#e6cd17"/>
<rect x="382" y="354" width="14" height="9" fill="#d6fd27"/>
<rect x="396" y="354" width="14" height="9" fill="#8ced71"/>
<rect x="410" y="354" width="14" height="9" fill="#43ddbb"/>
<rect x="424" y="354" width="15" height="9" fill="#13d3eb"/>
<rect x="439" y="354" width="14" height="9" fill="#00bef5"/>
<rect x="453" y="354" width="14" height="9" fill="#00a1e4"/>
<rect x="467" y="354" width="15" height="9" fill="#0092db"/>
<rect x="482" y="354" width="14" height="9" fill="#0081d0"/>
<rect x="496" y="354" width="14" height="9" fill="#0074c8"/>
<rect x="510" y="354" width="15" height="9" fill="#0069c1"/>
<rect x="525" y="354" width="14" height="9" fill="#005fbc"/>
<rect x="539" y="354" width="14" height="9" fill="#0056b6"/>
<rect x="553" y="354" width="15" height="9" fill="#004fb2"/>
<rect x="568" y="354" width="14" height="9" fill="#0047ad"/>
<rect x="582" y="354" width="14" height="9" fill="#0040a9"/>
<rect x="596" y="354" width="15" height="9" fill="#003aa5"/>
<rect x="611" y="354" width="14" height="9" fill="#0035a2"/>
<rect x="625" y="354" width="14" height="9" fill="#0031a0"/>
<rect x="639" y="354" width="29" height="9" fill="#002f9f"/>
<rect x="138" y="363" width="14" height="10" fill="#e8be15"/>
<rect x="152" y="363" width="15" height="10" fill="#70e78d"/>
<rect x="167" y="363" width="14" height="10" fill="#f0920e"/>
<rect x="181" y="363" width="14" height="10" fill="#870200"/>
<rect x="195" y="363" width="15" height="10" fill="#820000"/>
<rect x="210" y="363" width="14" height="10" fill="#9c0b00"/>
<rect x="224" y="363" width="29" height="10" fill="#b61500"/>
<rect x="253" y="363" width="14" height="10" fill="#c81d00"/>
<rect x="267" y="363" width="14" height="10" fill="#fe3901"/>
<rect x="281" y="363" width="15" height="10" fill="#f66b08"/>
<rect x="296" y="363" width="14" height="10" fill="#fa5104"/>
<rect x="310" y="363" width="14" height="10" fill="#fe3901"/>
<rect x="324" y="363" width="15" height="10" fill="#f4740a"/>
<rect x="339" y="363" width="14" height="10" fill="#eda010"/>
<rect x="353" y="363" width="14" height="10" fill="#e6cd17"/>
<rect x="367" y="363" width="15" height="10" fill="#dff91e"/>
<rect x="382" y="363" width="14" height="10" fill="#c0f83d"/>
<rect x="396" y="363" width="14" height="10" fill="#6be693"/>
<rect x="410" y="363" width="14" height="10" fill="#26d7d8"/>
<rect x="424" y="363" width="15" height="10" fill="#04cffb"/>
<rect x="439" y="363" width="14" height="10" fill="#00b3ee"/>
<rect x="453" y="363" width="14" height="10" fill="#009fe2"/>
<rect x="467" y="363" width="15" height="10" fill="#0089d5"/>
<rect x="482" y="363" width="14" height="10" fill="#007ccd"/>
<rect x="496" y="363" width="14" height="10" fill="#0070c6"/>
<rect x="510" y="363" width="15" height="10" fill="#0064bf"/>
<rect x="525" y="363" width="14" height="10" fill="#005bb9"/>
<rect x="539" y="363" width="14" height="10" fill="#0052b4"/>
<rect x="553" y="363" width="15" height="10" fill="#004bb0"/>
<rect x="568" y="363" width="14" height="10" fill="#0044ab"/>
<rect x="582" y="363" width="14" height="10" fill="#003da7"/>
<rect x="596" y="363" width="15" height="10" fill="#0038a4"/>
<rect x="611" y="363" width="14" height="10" fill="#0033a1"/>
<rect x="625" y="363" width="14" height="10" fill="#002f9f"/>
<rect x="639" y="363" width="15" height="10" fill="#002e9e"/>
<rect x="654" y="363" width="14" height="10" fill="#002d9e"/>
<rect x="152" y="373" width="15" height="10" fill="#ee9a10"/>
<rect x="167" y="373" width="14" height="10" fill="#e5d618"/>
<rect x="181" y="373" width="14" height="10" fill="#d02000"/>
<rect x="195" y="373" width="15" height="10" fill="#9c0b00"/>
<rect x="210" y="373" width="14" height="10" fill="#db2400"/>
<rect x="224" y="373" width="14" height="10" fill="#f73000"/>
<rect x="238" y="373" width="15" height="10" fill="#fe3901"/>
<rect x="253" y="373" width="14" height="10" fill="#fd4202"/>
<rect x="267" y="373" width="14" height="10" fill="#f37a0b"/>
<rect x="281" y="373" width="15" height="10" fill="#ebaf13"/>
<rect x="296" y="373" width="14" height="10" fill="#eca912"/>
<rect x="310" y="373" width="14" height="10" fill="#eda010"/>
<rect x="324" y="373" width="15" height="10" fill="#e6cd17"/>
<rect x="339" y="373" width="14" height="10" fill="#e1ea1b"/>
<rect x="353" y="373" width="14" height="10" fill="#d0fc2c"/>
<rect x="367" y="373" width="15" height="10" fill="#b5f648"/>
<rect x="382" y="373" width="14" height="10" fill="#9ff15e"/>
<rect x="396" y="373" width="14" height="10" fill="#4bdfb4"/>
<rect x="410" y="373" width="14" height="10" fill="#15d3ea"/>
<rect x="424" y="373" width="15" height="10" fill="#00c1f7"/>
<rect x="439" y="373" width="14" height="10" fill="#00a5e6"/>
<rect x="453" y="373" width="14" height="10" fill="#0098de"/>
<rect x="467" y="373" width="15" height="10" fill="#0083d2"/>
<rect x="482" y="373" width="14" height="10" fill="#0077ca"/>
<rect x="496" y="373" width="14" height="10" fill="#006bc3"/>
<rect x="510" y="373" width="15" height="10" fill="#0060bc"/>
<rect x="525" y="373" width="14" height="10" fill="#0057b7"/>
<rect x="539" y="373" width="14" height="10" fill="#004fb2"/>
<rect x="553" y="373" width="15" height="10" fill="#0048ae"/>
<rect x="568" y="373" width="14" height="10" fill="#0041a9"/>
<rect x="582" y="373" width="14" height="10" fill="#003ba6"/>
<rect x="596" y="373" width="15" height="10" fill="#0036a3"/>
<rect x="611" y="373" width="14" height="10" fill="#0031a0"/>
<rect x="625" y="373" width="14" height="10" fill="#002e9e"/>
<rect x="639" y="373" width="29" height="10" fill="#002c9d"/>
<rect x="167" y="383" width="14" height="10" fill="#f37d0b"/>
<rect x="181" y="383" width="14" height="10" fill="#f76508"/>
<rect x="195" y="383" width="15" height="10" fill="#c11a00"/>
<rect x="210" y="383" width="14" height="10" fill="#ef2d00"/>
<rect x="224" y="383" width="14" height="10" fill="#f85c06"/>
<rect x="238" y="383" width="15" height="10" fill="#f66b08"/>
<rect x="253" y="383" width="14" height="10" fill="#f2830c"/>
<rect x="267" y="383" width="14" height="10" fill="#ebaf13"/>
<rect x="281" y="383" width="15" height="10" fill="#e4dc19"/>
<rect x="296" y="383" width="14" height="10" fill="#dff61d"/>
<rect x="310" y="383" width="14" height="10" fill="#deff1f"/>
<rect x="324" y="383" width="15" height="10" fill="#d6fd27"/>
<rect x="339" y="383" width="14" height="10" fill="#c0f83d"/>
<rect x="353" y="383" width="14" height="10" fill="#a7f356"/>
<rect x="367" y="383" width="15" height="10" fill="#91ee6c"/>
<rect x="382" y="383" width="14" height="10" fill="#7be982"/>
<rect x="396" y="383" width="14" height="10" fill="#2fd9cf"/>
<rect x="410" y="383" width="14" height="10" fill="#06d0f9"/>
<rect x="424" y="383" width="15" height="10" fill="#00b4ef"/>
<rect x="439" y="383" width="14" height="10" fill="#009ee1"/>
<rect x="453" y="383" width="14" height="10" fill="#008dd7"/>
<rect x="467" y="383" width="15" height="10" fill="#007ece"/>
<rect x="482" y="383" width="14" height="10" fill="#0072c7"/>
<rect x="496" y="383" width="14" height="10" fill="#0066c0"/>
<rect x="510" y="383" width="15" height="10" fill="#005cb9"/>
<rect x="525" y="383" width="14" height="10" fill="#0053b4"/>
<rect x="539" y="383" width="14" height="10" fill="#004bb0"/>
<rect x="553" y="383" width="15" height="10" fill="#0045ac"/>
<rect x="568" y="383" width="14" height="10" fill="#003ea8"/>
<rect x="582" y="383" width="14" height="10" fill="#0038a4"/>
<rect x="596" y="383" width="15" height="10" fill="#0034a1"/>
<rect x="611" y="383" width="14" height="10" fill="#002f9f"/>
<rect x="625" y="383" width="14" height="10" fill="#002c9d"/>
<rect x="639" y="383" width="15" height="10" fill="#002b9c"/>
<rect x="654" y="383" width="14" height="10" fill="#002a9b"/>
<rect x="181" y="393" width="14" height="9" fill="#fa5104"/>
<rect x="195" y="393" width="15" height="9" fill="#d82300"/>
<rect x="210" y="393" width="14" height="9" fill="#fa5104"/>
<rect x="224" y="393" width="14" height="9" fill="#f2830c"/>
<rect x="238" y="393" width="15" height="9" fill="#ef980f"/>
<rect x="253" y="393" width="14" height="9" fill="#eca912"/>
<rect x="267" y="393" width="14" height="9" fill="#e4dc19"/>
<rect x="281" y="393" width="15" height="9" fill="#deff1f"/>
<rect x="296" y="393" width="14" height="9" fill="#cdfb2f"/>
<rect x="310" y="393" width="14" height="9" fill="#c0f83d"/>
<rect x="324" y="393" width="15" height="9" fill="#adf450"/>
<rect x="339" y="393" width="14" height="9" fill="#99f064"/>
<rect x="353" y="393" width="14" height="9" fill="#83eb7a"/>
<rect x="367" y="393" width="15" height="9" fill="#70e78d"/>
<rect x="382" y="393" width="14" height="9" fill="#60e39e"/>
<rect x="396" y="393" width="14" height="9" fill="#1ad4e5"/>
<rect x="410" y="393" width="14" height="9" fill="#00c2f8"/>
<rect x="424" y="393" width="15" height="9" fill="#00a1e4"/>
<rect x="439" y="393" width="14" height="9" fill="#0093db"/>
<rect x="453" y="393" width="14" height="9" fill="#0086d3"/>
<rect x="467" y="393" width="15" height="9" fill="#0078cb"/>
<rect x="482" y="393" width="14" height="9" fill="#006dc4"/>
<rect x="496" y="393" width="14" height="9" fill="#0062bd"/>
<rect x="510" y="393" width="15" height="9" fill="#0057b7"/>
<rect x="525" y="393" width="14" height="9" fill="#004fb2"/>
<rect x="539" y="393" width="14" height="9" fill="#0048ad"/>
<rect x="553" y="393" width="15" height="9" fill="#0041aa"/>
<rect x="568" y="393" width="14" height="9" fill="#003ba6"/>
<rect x="582" y="393" width="14" height="9" fill="#0036a3"/>
<rect x="596" y="393" width="15" height="9" fill="#0032a0"/>
<rect x="611" y="393" width="14" height="9" fill="#002d9e"/>
<rect x="625" y="393" width="14" height="9" fill="#002a9c"/>
<rect x="639" y="393" width="15" height="9" fill="#00299b"/>
<rect x="654" y="393" width="14" height="9" fill="#00289a"/>
<rect x="210" y="402" width="14" height="10" fill="#f37d0b"/>
<rect x="224" y="402" width="14" height="10" fill="#ee9a10"/>
<rect x="238" y="402" width="15" height="10" fill="#eca912"/>
<rect x="253" y="402" width="14" height="10" fill="#e6cd17"/>
<rect x="267" y="402" width="14" height="10" fill="#deff1f"/>
<rect x="281" y="402" width="15" height="10" fill="#c0f83d"/>
<rect x="296" y="402" width="14" height="10" fill="#9ff15e"/>
<rect x="310" y="402" width="14" height="10" fill="#91ee6c"/>
<rect x="324" y="402" width="15" height="10" fill="#7be982"/>
<rect x="339" y="402" width="14" height="10" fill="#60e39e"/>
<rect x="353" y="402" width="14" height="10" fill="#47deb7"/>
<rect x="367" y="402" width="15" height="10" fill="#3adbc5"/>
<rect x="382" y="402" width="14" height="10" fill="#31d9cd"/>
<rect x="396" y="402" width="14" height="10" fill="#00ceff"/>
<rect x="410" y="402" width="14" height="10" fill="#00aeeb"/>
<rect x="424" y="402" width="15" height="10" fill="#009be0"/>
<rect x="439" y="402" width="14" height="10" fill="#0088d5"/>
<rect x="453" y="402" width="14" height="10" fill="#0080cf"/>
<rect x="467" y="402" width="15" height="10" fill="#0073c7"/>
<rect x="482" y="402" width="14" height="10" fill="#0068c1"/>
<rect x="496" y="402" width="14" height="10" fill="#005dba"/>
<rect x="510" y="402" width="15" height="10" fill="#0053b4"/>
<rect x="525" y="402" width="14" height="10" fill="#004baf"/>
<rect x="539" y="402" width="14" height="10" fill="#0044ab"/>
<rect x="553" y="402" width="15" height="10" fill="#003ea8"/>
<rect x="568" y="402" width="14" height="10" fill="#0038a4"/>
<rect x="582" y="402" width="14" height="10" fill="#0033a1"/>
<rect x="596" y="402" width="15" height="10" fill="#00309f"/>
<rect x="611" y="402" width="14" height="10" fill="#002c9c"/>
<rect x="625" y="402" width="14" height="10" fill="#00299b"/>
<rect x="639" y="402" width="15" height="10" fill="#00289a"/>
<rect x="654" y="402" width="14" height="10" fill="#002799"/>
<rect x="224" y="412" width="14" height="10" fill="#f0920e"/>
<rect x="238" y="412" width="15" height="10" fill="#ebaf13"/>
<rect x="253" y="412" width="14" height="10" fill="#e4dc19"/>
<rect x="267" y="412" width="14" height="10" fill="#d0fc2c"/>
<rect x="281" y="412" width="15" height="10" fill="#a7f356"/>
<rect x="296" y="412" width="14" height="10" fill="#83eb7a"/>
<rect x="310" y="412" width="14" height="10" fill="#63e49b"/>
<rect x="324" y="412" width="15" height="10" fill="#3fdcbf"/>
<rect x="339" y="412" width="14" height="10" fill="#24d6db"/>
<rect x="353" y="412" width="14" height="10" fill="#16d3e9"/>
<rect x="367" y="412" width="15" height="10" fill="#0ed2f1"/>
<rect x="382" y="412" width="14" height="10" fill="#10d2ee"/>
<rect x="396" y="412" width="14" height="10" fill="#00baf3"/>
<rect x="410" y="412" width="14" height="10" fill="#00a0e3"/>
<rect x="424" y="412" width="15" height="10" fill="#0091d9"/>
<rect x="439" y="412" width="14" height="10" fill="#0083d2"/>
<rect x="453" y="412" width="14" height="10" fill="#007acc"/>
<rect x="467" y="412" width="15" height="10" fill="#006dc4"/>
<rect x="482" y="412" width="14" height="10" fill="#0063be"/>
<rect x="496" y="412" width="14" height="10" fill="#0058b7"/>
<rect x="510" y="412" width="15" height="10" fill="#004fb2"/>
<rect x="525" y="412" width="14" height="10" fill="#0047ad"/>
<rect x="539" y="412" width="14" height="10" fill="#0040a9"/>
<rect x="553" y="412" width="15" height="10" fill="#003ba6"/>
<rect x="568" y="412" width="14" height="10" fill="#0035a2"/>
<rect x="582" y="412" width="14" height="10" fill="#0031a0"/>
<rect x="596" y="412" width="15" height="10" fill="#002d9d"/>
<rect x="611" y="412" width="14" height="10" fill="#002a9b"/>
<rect x="625" y="412" width="14" height="10" fill="#00279a"/>
<rect x="639" y="412" width="15" height="10" fill="#002699"/>
<rect x="238" y="422" width="15" height="10" fill="#e8be15"/>
<rect x="253" y="422" width="14" height="10" fill="#e5d318"/>
<rect x="267" y="422" width="14" height="10" fill="#c8fa35"/>
<rect x="281" y="422" width="15" height="10" fill="#91ee6c"/>
<rect x="296" y="422" width="14" height="10" fill="#60e39e"/>
<rect x="310" y="422" width="14" height="10" fill="#3fdcbf"/>
<rect x="324" y="422" width="15" height="10" fill="#1bd5e3"/>
<rect x="339" y="422" width="14" height="10" fill="#05d0f9"/>
<rect x="353" y="422" width="14" height="10" fill="#00cafd"/>
<rect x="367" y="422" width="15" height="10" fill="#00c8fb"/>
<rect x="382" y="422" width="14" height="10" fill="#00cafd"/>
<rect x="396" y="422" width="14" height="10" fill="#00a7e7"/>
<rect x="410" y="422" width="14" height="10" fill="#009adf"/>
<rect x="424" y="422" width="15" height="10" fill="#0088d5"/>
<rect x="439" y="422" width="14" height="10" fill="#007fcf"/>
<rect x="453" y="422" width="14" height="10" fill="#0073c8"/>
<rect x="467" y="422" width="15" height="10" fill="#0067c1"/>
<rect x="482" y="422" width="14" height="10" fill="#005dbb"/>
<rect x="496" y="422" width="14" height="10" fill="#0053b5"/>
<rect x="510" y="422" width="15" height="10" fill="#004aaf"/>
<rect x="525" y="422" width="14" height="10" fill="#0043aa"/>
<rect x="539" y="422" width="14" height="10" fill="#003da7"/>
<rect x="553" y="422" width="15" height="10" fill="#0038a4"/>
<rect x="568" y="422" width="14" height="10" fill="#0032a0"/>
<rect x="582" y="422" width="14" height="10" fill="#002e9e"/>
<rect x="596" y="422" width="15" height="10" fill="#002b9c"/>
<rect x="611" y="422" width="14" height="10" fill="#00289a"/>
<rect x="625" y="422" width="14" height="10" fill="#002599"/>
<rect x="639" y="422" width="15" height="10" fill="#002598"/>
<rect x="253" y="432" width="14" height="9" fill="#e5d318"/>
<rect x="267" y="432" width="14" height="9" fill="#d0fc2c"/>
<rect x="281" y="432" width="15" height="9" fill="#9ff15e"/>
<rect x="296" y="432" width="14" height="9" fill="#70e78d"/>
<rect x="310" y="432" width="14" height="9" fill="#47deb7"/>
<rect x="324" y="432" width="15" height="9" fill="#24d6db"/>
<rect x="339" y="432" width="14" height="9" fill="#05d0f9"/>
<rect x="353" y="432" width="14" height="9" fill="#00c4f9"/>
<rect x="367" y="432" width="15" height="9" fill="#00c0f6"/>
<rect x="382" y="432" width="14" height="9" fill="#00bcf4"/>
<rect x="396" y="432" width="14" height="9" fill="#00a0e3"/>
<rect x="410" y="432" width="14" height="9" fill="#0091da"/>
<rect x="424" y="432" width="15" height="9" fill="#0085d2"/>
<rect x="439" y="432" width="14" height="9" fill="#007acc"/>
<rect x="453" y="432" width="14" height="9" fill="#006dc4"/>
<rect x="467" y="432" width="15" height="9" fill="#0062bd"/>
<rect x="482" y="432" width="14" height="9" fill="#0058b7"/>
<rect x="496" y="432" width="14" height="9" fill="#004fb2"/>
<rect x="510" y="432" width="15" height="9" fill="#0046ac"/>
<rect x="525" y="432" width="14" height="9" fill="#003fa8"/>
<rect x="539" y="432" width="14" height="9" fill="#0039a5"/>
<rect x="553" y="432" width="15" height="9" fill="#0034a2"/>
<rect x="568" y="432" width="14" height="9" fill="#002f9f"/>
<rect x="582" y="432" width="14" height="9" fill="#002c9d"/>
<rect x="596" y="432" width="15" height="9" fill="#00299b"/>
<rect x="611" y="432" width="14" height="9" fill="#002699"/>
<rect x="625" y="432" width="14" height="9" fill="#002498"/>
<rect x="639" y="432" width="15" height="9" fill="#002397"/>
<rect x="281" y="441" width="15" height="10" fill="#a4f259"/>
<rect x="296" y="441" width="14" height="10" fill="#7be982"/>
<rect x="310" y="441" width="14" height="10" fill="#52e0ac"/>
<rect x="324" y="441" width="15" height="10" fill="#1bd5e3"/>
<rect x="339" y="441" width="14" height="10" fill="#00cafd"/>
<rect x="353" y="441" width="14" height="10" fill="#00c0f6"/>
<rect x="367" y="441" width="15" height="10" fill="#00b6f0"/>
<rect x="382" y="441" width="14" height="10" fill="#00b0ed"/>
<rect x="396" y="441" width="14" height="10" fill="#009ce1"/>
<rect x="410" y="441" width="14" height="10" fill="#008fd8"/>
<rect x="424" y="441" width="15" height="10" fill="#0081d0"/>
<rect x="439" y="441" width="14" height="10" fill="#0075c9"/>
<rect x="453" y="441" width="14" height="10" fill="#0067c1"/>
<rect x="467" y="441" width="15" height="10" fill="#005cba"/>
<rect x="482" y="441" width="14" height="10" fill="#0053b4"/>
<rect x="496" y="441" width="14" height="10" fill="#004aaf"/>
<rect x="510" y="441" width="15" height="10" fill="#0041aa"/>
<rect x="525" y="441" width="14" height="10" fill="#003ba6"/>
<rect x="539" y="441" width="14" height="10" fill="#0036a3"/>
<rect x="553" y="441" width="15" height="10" fill="#0031a0"/>
<rect x="568" y="441" width="14" height="10" fill="#002c9d"/>
<rect x="582" y="441" width="14" height="10" fill="#00299b"/>
<rect x="596" y="441" width="15" height="10" fill="#00279a"/>
<rect x="611" y="441" width="14" height="10" fill="#002498"/>
<rect x="625" y="441" width="14" height="10" fill="#002296"/>
<rect x="639" y="441" width="15" height="10" fill="#002196"/>
<rect x="324" y="451" width="15" height="10" fill="#08d0f7"/>
<rect x="339" y="451" width="14" height="10" fill="#00c4f9"/>
<rect x="353" y="451" width="14" height="10" fill="#00bcf4"/>
<rect x="367" y="451" width="15" height="10" fill="#00b2ee"/>
<rect x="382" y="451" width="14" height="10" fill="#00acea"/>
<rect x="396" y="451" width="14" height="10" fill="#0099df"/>
<rect x="410" y="451" width="14" height="10" fill="#008cd7"/>
<rect x="424" y="451" width="15" height="10" fill="#007dce"/>
<rect x="439" y="451" width="14" height="10" fill="#0070c6"/>
<rect x="453" y="451" width="14" height="10" fill="#0061bd"/>
<rect x="467" y="451" width="15" height="10" fill="#0057b6"/>
<rect x="482" y="451" width="14" height="10" fill="#004eb1"/>
<rect x="496" y="451" width="14" height="10" fill="#0045ac"/>
<rect x="510" y="451" width="15" height="10" fill="#003da7"/>
<rect x="525" y="451" width="14" height="10" fill="#0037a3"/>
<rect x="539" y="451" width="14" height="10" fill="#0032a0"/>
<rect x="553" y="451" width="15" height="10" fill="#002e9e"/>
<rect x="568" y="451" width="14" height="10" fill="#00299b"/>
<rect x="582" y="451" width="14" height="10" fill="#00279a"/>
<rect x="596" y="451" width="15" height="10" fill="#002598"/>
<rect x="611" y="451" width="14" height="10" fill="#002297"/>
<rect x="625" y="451" width="14" height="10" fill="#002095"/>
<rect x="396" y="461" width="14" height="9" fill="#0098de"/>
<rect x="410" y="461" width="14" height="9" fill="#008ad5"/>
<rect x="424" y="461" width="15" height="9" fill="#007acc"/>
<rect x="439" y="461" width="14" height="9" fill="#006bc3"/>
<rect x="453" y="461" width="14" height="9" fill="#005bb9"/>
<rect x="467" y="461" width="15" height="9" fill="#0051b3"/>
<rect x="482" y="461" width="14" height="9" fill="#0049ae"/>
<rect x="496" y="461" width="14" height="9" fill="#0041a9"/>
<rect x="510" y="461" width="15" height="9" fill="#0039a4"/>
<rect x="525" y="461" width="14" height="9" fill="#0033a1"/>
<rect x="539" y="461" width="14" height="9" fill="#002f9e"/>
<rect x="553" y="461" width="15" height="9" fill="#002b9c"/>
<rect x="568" y="461" width="14" height="9" fill="#002699"/>
<rect x="582" y="461" width="14" height="9" fill="#002498"/>
<rect x="596" y="461" width="15" height="9" fill="#002297"/>
<rect x="611" y="461" width="14" height="9" fill="#002096"/>
<rect x="453" y="470" width="14" height="10" fill="#005bb9"/>
<rect x="467" y="470" width="15" height="10" fill="#0051b3"/>
<rect x="482" y="470" width="14" height="10" fill="#0049ae"/>
<rect x="496" y="470" width="14" height="10" fill="#0041a9"/>
<rect x="510" y="470" width="15" height="10" fill="#0039a4"/>
<rect x="525" y="470" width="14" height="10" fill="#0033a1"/>
<rect x="539" y="470" width="14" height="10" fill="#002f9e"/>
<rect x="553" y="470" width="15" height="10" fill="#002b9c"/>
<rect x="568" y="470" width="14" height="10" fill="#002699"/>
<rect x="582" y="470" width="14" height="10" fill="#002498"/>
<rect x="596" y="470" width="15" height="10" fill="#002297"/>
</g>
<g clip-path="url(#cp)" fill="none" stroke-linejoin="round">
<path d="M453.6 96.3 L447.1 102.1 L432.1 104.5 L409.1 105.5 L403.4 109.9 L404.8 120.6 L414.9 129.3 L426.3 144.9 L437.8 157.6 L446.4 171.2 L455.0 184.8 L460.7 196.5 L462.1 213.0 L459.3 230.5 L456.4 251.0 L452.1 275.3 L449.3 293.8 L443.5 311.3 L437.8 325.9 L433.5 339.5 L429.2 347.3 L424.9 355.1 L414.9 365.8 L409.1 375.5 L403.4 387.2 L396.2 396.9 L387.6 405.7 L373.3 412.5 L359.0 411.5 L346.1 406.7 L336.0 410.5 L326.0 421.2 L321.7 433.9 L321.0 443.6" stroke="#646464" stroke-width="4.6" stroke-dasharray="6 3.2"/>
<path d="M509.4 105.0 L473.6 105.6 L473.6 112.8 L483.6 125.5 L482.2 132.3 L479.3 138.1 L472.2 143.0 L466.4 150.8 L466.4 155.6 L470.7 163.4 L475.0 173.1 L483.6 185.8 L486.5 196.5 L490.8 213.0 L489.4 251.0 L486.5 262.6 L480.8 275.3 L477.9 293.8 L473.6 305.5 L469.3 319.1 L465.0 334.6 L460.7 349.2 L456.4 362.9 L450.7 374.5 L443.5 385.2 L432.1 396.9 L424.9 405.7 L414.9 417.4 L402.0 431.0 L389.1 443.6 L380.5 455.3 L355.1 456.3" stroke="#646464" stroke-width="4.6" stroke-dasharray="6 3.2"/>
<path d="M326.5 90.0 L325.2 94.0 L314.7 100.8 L295.0 98.6 L280.0 99.3 L276.4 98.6 L261.2 107.4 L231.0 107.4 L215.9 116.2 L200.8 116.2 L180.6 131.3 L175.6 136.3 L160.5 136.3 L142.8 150.0 L133.7 154.5 L118.6 162.8 L120.9 169.6 L117.1 177.1 L107.3 182.4 L108.1 190.7 L101.3 196.7 L99.5 198.5" stroke="#646464" stroke-width="5.6"/>
<path d="M102.5 246.6 L103.6 246.6 L109.6 250.3 L108.1 258.6 L108.8 273.7 L107.3 285.8 L108.1 300.8 L107.3 314.4 L109.6 322.0 L113.9 325.0 L121.4 326.9 L123.3 334.4 L123.3 343.9 L125.2 357.1 L140.3 368.5 L151.7 377.0 L166.8 385.5 L183.8 400.6 L189.5 402.5 L198.9 401.5 L208.4 406.2 L227.3 417.6 L238.0 425.1 L245.0 430.8 L256.9 440.2 L267.3 440.2 L281.5 445.0 L289.0 449.7 L304.1 447.8 L319.2 446.8 L326.8 456.3 L336.2 457.2 L355.1 456.3" stroke="#646464" stroke-width="5.6"/>
<path d="M336.2 457.2 L355.1 456.3 L345.7 445.9 L355.1 432.7 L370.3 428.0 L387.6 423.2 L391.9 421.2 L404.8 407.6 L419.2 393.0 L426.3 379.4 L437.8 366.8 L443.5 353.1 L449.3 336.6 L450.7 325.9 L455.0 313.2 L459.3 300.6 L462.1 287.9 L466.4 275.3 L469.3 262.6 L470.7 251.0 L475.0 238.3 L476.5 225.7 L477.9 213.0 L476.5 201.3 L472.2 189.7 L466.4 180.9 L457.8 169.2 L450.7 157.6 L449.3 150.8 L443.5 144.9 L442.1 138.1 L443.5 130.3 L452.1 125.5 L462.1 121.6 L466.4 112.8 L465.0 107.0 L460.7 101.1 L453.3 97.2 L445.0 95.3" stroke="#646464" stroke-width="4.7"/>
<path d="M93.0 106.2 L113.5 105.9 L127.8 95.0 L223.5 94.8 L276.4 96.0 L280.0 95.5 L287.5 90.0" stroke="#000" stroke-width="4.6"/>
<path d="M325.5 90.0 L346.3 100.0 L363.0 111.0 L373.2 124.0 L383.0 130.2 L395.8 141.4 L408.4 156.5 L415.9 174.1 L418.4 191.8 L419.7 210.9 L420.2 225.2 L418.4 250.4 L415.9 270.5 L409.6 288.2 L403.3 305.8 L398.3 323.4 L388.2 341.0 L374.0 362.8 L355.1 381.7 L313.6 400.6 L275.8 416.6 L262.6 425.5 L266.3 436.5 L274.8 454.4 L287.1 466.7 L304.5 481.5" stroke="#000" stroke-width="4.6"/>
<path d="M92.5 197.3 L109.6 209.6 L104.3 228.4 L101.0 236.0 L98.3 251.0 L96.0 270.7 L94.5 280.5" stroke="#000" stroke-width="4.6"/>
<path d="M96.5 348.0 L104.4 344.8 L113.9 343.9 L121.4 346.7 L128.0 349.6 L119.6 357.1 L93.0 377.5" stroke="#000" stroke-width="4.6"/>
</g>
<rect x="382.5" y="97.5" width="274" height="114" fill="#ffffff" fill-opacity="0.7" stroke="#000" stroke-width="1"/>
<path d="M396.3 115.8 H464.2" stroke="#646464" stroke-width="4" stroke-dasharray="2.8 3.2" fill="none"/>
<path d="M396.3 154.3 H464.2" stroke="#646464" stroke-width="4" fill="none"/>
<path d="M396.3 192.3 H464.2" stroke="#000" stroke-width="4" fill="none"/>
<g class="ser" font-size="20.9" fill="#000">
<text x="477.8" y="124.5">±20% (SModelS)</text>
<text x="477.8" y="162.9">exclusion (SModelS)</text>
<text x="477.8" y="200.7">exclusion (official)</text>
</g>
<g stroke="#000" stroke-width="1" fill="none" shape-rendering="crispEdges">
<rect x="95.5" y="91.5" width="573.0" height="389.0"/>
<path d="M100.5 480.5 V474.1 M112.5 480.5 V474.1 M124.5 480.5 V474.1 M136.5 480.5 V467.8 M148.5 480.5 V474.1 M159.5 480.5 V474.1 M171.5 480.5 V474.1 M183.5 480.5 V474.1 M195.5 480.5 V467.8 M207.5 480.5 V474.1 M219.5 480.5 V474.1 M230.5 480.5 V474.1 M242.5 480.5 V474.1 M254.5 480.5 V467.8 M266.5 480.5 V474.1 M278.5 480.5 V474.1 M290.5 480.5 V474.1 M302.5 480.5 V474.1 M313.5 480.5 V467.8 M325.5 480.5 V474.1 M337.5 480.5 V474.1 M349.5 480.5 V474.1 M361.5 480.5 V474.1 M373.5 480.5 V467.8 M385.5 480.5 V474.1 M396.5 480.5 V474.1 M408.5 480.5 V474.1 M420.5 480.5 V474.1 M432.5 480.5 V467.8 M444.5 480.5 V474.1 M456.5 480.5 V474.1 M468.5 480.5 V474.1 M479.5 480.5 V474.1 M491.5 480.5 V467.8 M503.5 480.5 V474.1 M515.5 480.5 V474.1 M527.5 480.5 V474.1 M539.5 480.5 V474.1 M550.5 480.5 V467.8 M562.5 480.5 V474.1 M574.5 480.5 V474.1 M586.5 480.5 V474.1 M598.5 480.5 V474.1 M610.5 480.5 V467.8 M622.5 480.5 V474.1 M633.5 480.5 V474.1 M645.5 480.5 V474.1 M657.5 480.5 V474.1"/>
<path d="M95.5 477.5 H111.7 M95.5 468.5 H103.6 M95.5 460.5 H103.6 M95.5 451.5 H103.6 M95.5 442.5 H103.6 M95.5 433.5 H111.7 M95.5 425.5 H103.6 M95.5 416.5 H103.6 M95.5 407.5 H103.6 M95.5 398.5 H103.6 M95.5 389.5 H111.7 M95.5 381.5 H103.6 M95.5 372.5 H103.6 M95.5 363.5 H103.6 M95.5 354.5 H103.6 M95.5 346.5 H111.7 M95.5 337.5 H103.6 M95.5 328.5 H103.6 M95.5 319.5 H103.6 M95.5 310.5 H103.6 M95.5 302.5 H111.7 M95.5 293.5 H103.6 M95.5 284.5 H103.6 M95.5 275.5 H103.6 M95.5 266.5 H103.6 M95.5 258.5 H111.7 M95.5 249.5 H103.6 M95.5 240.5 H103.6 M95.5 231.5 H103.6 M95.5 223.5 H103.6 M95.5 214.5 H111.7 M95.5 205.5 H103.6 M95.5 196.5 H103.6 M95.5 187.5 H103.6 M95.5 179.5 H103.6 M95.5 170.5 H111.7 M95.5 161.5 H103.6 M95.5 152.5 H103.6 M95.5 144.5 H103.6 M95.5 135.5 H103.6 M95.5 126.5 H111.7 M95.5 117.5 H103.6 M95.5 108.5 H103.6 M95.5 100.5 H103.6"/>
</g>
<g class="ser" font-size="24.3" fill="#000">
<text x="135.8" y="503.7" text-anchor="middle">300</text>
<text x="195.0" y="503.7" text-anchor="middle">400</text>
<text x="254.3" y="503.7" text-anchor="middle">500</text>
<text x="313.6" y="503.7" text-anchor="middle">600</text>
<text x="372.8" y="503.7" text-anchor="middle">700</text>
<text x="432.1" y="503.7" text-anchor="middle">800</text>
<text x="491.3" y="503.7" text-anchor="middle">900</text>
<text x="550.6" y="503.7" text-anchor="middle">1000</text>
<text x="609.8" y="503.7" text-anchor="middle">1100</text>
<text x="90.6" y="486.9" text-anchor="end">0.1</text>
<text x="90.6" y="443.0" text-anchor="end">0.2</text>
<text x="90.6" y="399.1" text-anchor="end">0.3</text>
<text x="90.6" y="355.2" text-anchor="end">0.4</text>
<text x="90.6" y="311.3" text-anchor="end">0.5</text>
<text x="90.6" y="267.4" text-anchor="end">0.6</text>
<text x="90.6" y="223.5" text-anchor="end">0.7</text>
<text x="90.6" y="179.6" text-anchor="end">0.8</text>
<text x="90.6" y="135.7" text-anchor="end">0.9</text>
</g>
<g class="san" font-size="20.6" fill="#000">
<text x="381.4" y="522.9" text-anchor="middle">x</text>
<text transform="translate(42.3 285.7) rotate(-90)" text-anchor="middle">y</text>
</g>
<rect x="672" y="91" width="40.5" height="389" fill="url(#pal)" shape-rendering="crispEdges"/>
<g stroke="#000" stroke-width="1" fill="none" shape-rendering="crispEdges">
<path d="M712.5 91 V480.5"/>
<path d="M712.5 480.5 H696.7 M712.5 415.5 H696.7 M712.5 350.5 H696.7 M712.5 285.5 H696.7 M712.5 220.5 H696.7 M712.5 156.5 H696.7 M712.5 91.5 H696.7"/>
</g>
<g class="ser" font-size="21" fill="#000">
<text x="716.3" y="488.1">0</text>
<text x="716.3" y="423.3">0.5</text>
<text x="716.3" y="358.4">1</text>
<text x="716.3" y="293.6">1.5</text>
<text x="716.3" y="228.8">2</text>
<text x="716.3" y="164.0">2.5</text>
<text x="716.3" y="99.1">3</text>
</g>
<g transform="translate(785 359.5) rotate(-90)" class="ser" fill="#000"><text x="0" y="0" font-size="28.8">r = <tspan class="san">σ</tspan><tspan font-size="17.4" dy="5.6">signal</tspan><tspan dy="-5.6">/</tspan><tspan class="san">σ</tspan><tspan font-size="17.4" dy="5.6">UL</tspan></text></g>
<g class="san" fill="#000">
<text x="217.6" y="18.1" font-size="22" textLength="234.6" lengthAdjust="spacingAndGlyphs">ATLAS-SUSY-2013-02</text>
<text x="479.1" y="18.8" font-size="17.5" textLength="99.1" lengthAdjust="spacingAndGlyphs">(upperLimit)</text>
</g>
<g class="san" fill="#000" font-size="17.8">
<text x="23.8" y="67.9" textLength="59" lengthAdjust="spacingAndGlyphs">T6WW:</text>
<text x="88.6" y="67.9" textLength="19.8" lengthAdjust="spacingAndGlyphs">pp</text>
<text transform="translate(113.8 67.1) scale(1.55 1)" class="ser" font-size="19.5">→</text>
<text x="144.0" y="67.9">q</text>
<text x="148.9" y="58.6" font-size="15" text-anchor="middle" textLength="9.5" lengthAdjust="spacingAndGlyphs">~</text>
<text x="160.3" y="67.9">q</text>
<text x="165.2" y="58.6" font-size="15" text-anchor="middle" textLength="9.5" lengthAdjust="spacingAndGlyphs">~</text>
<text x="180.4" y="67.9">q</text>
<text x="185.3" y="58.6" font-size="15" text-anchor="middle" textLength="9.5" lengthAdjust="spacingAndGlyphs">~</text>
<text x="170.6" y="67.9">,</text>
<text transform="translate(197.3 67.1) scale(1.55 1)" class="ser" font-size="19.5">→</text>
<text x="226.0" y="67.9">q</text>
<text x="243.3" y="67.5" font-size="18.5" class="ser" font-style="italic">χ</text>
<text x="247.7" y="59.4" font-size="15" text-anchor="middle" textLength="9.0" lengthAdjust="spacingAndGlyphs">~</text>
<text x="251.5" y="55.7" font-size="11">±</text>
<text x="251.7" y="76.6" font-size="11">1</text>
<text x="269.7" y="67.5" font-size="18.5" class="ser" font-style="italic">χ</text>
<text x="274.1" y="59.4" font-size="15" text-anchor="middle" textLength="9.0" lengthAdjust="spacingAndGlyphs">~</text>
<text x="277.9" y="55.7" font-size="11">±</text>
<text x="278.1" y="76.6" font-size="11">1</text>
<text x="259.6" y="67.9">,</text>
<text transform="translate(287.5 67.1) scale(1.55 1)" class="ser" font-size="19.5">→</text>
<text x="316.9" y="67.9">W</text>
<text x="340.6" y="67.5" font-size="18.5" class="ser" font-style="italic">χ</text>
<text x="345.0" y="59.4" font-size="15" text-anchor="middle" textLength="9.0" lengthAdjust="spacingAndGlyphs">~</text>
<text x="350.0" y="55.7" font-size="11">0</text>
<text x="349.8" y="76.6" font-size="11">1</text>
</g>
<g class="san" fill="#000" font-size="16.8">
<text x="437.6" y="67.9">m</text>
<text x="451.4" y="72.1" font-size="11.5">q</text>
<text x="454.7" y="66.4" font-size="10" text-anchor="middle">~</text>
<text x="459.3" y="67.9" textLength="42.6" lengthAdjust="spacingAndGlyphs">=x, m</text>
<text x="504.3" y="73.9" font-size="12" class="ser" font-style="italic">χ</text>
<text x="507.6" y="68.1" font-size="10" text-anchor="middle">~</text>
<text x="511.0" y="66.9" font-size="7">±</text>
<text x="511.0" y="79.4" font-size="7">1</text>
<text x="516.2" y="67.9" textLength="177.6" lengthAdjust="spacingAndGlyphs">=y*(x - 60.0) + 60.0, m</text>
<text x="704.3" y="79.4" font-size="12" class="ser" font-style="italic">χ</text>
<text x="707.6" y="73.6" font-size="10" text-anchor="middle">~</text>
<text x="711.0" y="72.4" font-size="7">0</text>
<text x="711.0" y="84.9" font-size="7">1</text>
<text x="716.1" y="67.9" textLength="44.8" lengthAdjust="spacingAndGlyphs">=60.0</text>
</g>
<g>
<path d="M77 542.5h2M56 527.5h1M58 522.5h1M68 514.5h1M105 525.5h1M63 511.5h2M97 533.5h2M14 528.5h1M69 524.5h1M110 521.5h1M87 530.5h1M53 527.5h1M94 526.5h1M39 520.5h2M65 527.5h1M65 520.5h1M55 517.5h1M64 513.5h1M38 539.5h1M58 531.5h1M72 530.5h2M22 530.5h2M82 539.5h1M58 528.5h1M72 537.5h2M35 530.5h2M51 533.5h1M102 518.5h1M68 531.5h1M99 524.5h2M77 516.5h1M66 516.5h1M105 521.5h1M41 518.5h1M68 522.5h1M22 534.5h1M76 539.5h2M18 517.5h1M25 525.5h1M52 542.5h1M100 532.5h1M56 513.5h1M105 532.5h1M58 528.5h2M72 514.5h1M54 529.5h1M87 524.5h2M83 519.5h1M63 540.5h2M67 532.5h1M72 534.5h2M84 522.5h2M17 526.5h1M95 531.5h1M20 517.5h1M39 534.5h1M95 531.5h1M90 520.5h1M78 523.5h1M63 518.5h1M8 524.5h1M33 532.5h1M107 522.5h2M42 517.5h1M97 516.5h1M60 535.5h2M44 533.5h1M23 532.5h1M89 520.5h1M70 521.5h1M81 532.5h1M28 520.5h1M57 528.5h1M101 516.5h1M64 511.5h1M111 525.5h1M34 518.5h1M36 516.5h1M45 520.5h1M10 530.5h1M57 539.5h1M30 529.5h1M103 517.5h1M56 538.5h2M48 529.5h1M57 526.5h1M38 516.5h2M9 530.5h1M97 531.5h1M48 528.5h1M90 524.5h1M65 522.5h1M77 534.5h2M95 532.5h2M73 525.5h1M67 541.5h1M48 511.5h1M85 517.5h1M71 514.5h2M11 531.5h1M37 532.5h2M61 516.5h2M71 524.5h1M67 527.5h2M89 533.5h1M97 522.5h1M32 540.5h1M91 538.5h1M20 537.5h1M69 524.5h1M43 528.5h2M103 532.5h1M39 511.5h1M75 530.5h1M19 520.5h1M60 521.5h1M103 522.5h1M48 513.5h1M26 531.5h1M106 523.5h1M81 512.5h1M24 535.5h1M23 533.5h1M55 538.5h1M75 532.5h1M55 536.5h2M71 535.5h1M74 511.5h1M19 520.5h1M46 528.5h2M79 529.5h1M13 526.5h1M111 528.5h2M85 536.5h1M66 526.5h1M59 516.5h2M9 526.5h1M27 528.5h1M71 537.5h1M30 516.5h1M51 513.5h1M31 515.5h2M43 533.5h1M47 533.5h1M42 535.5h2M97 516.5h1M41 524.5h1M40 516.5h1M110 531.5h1M94 526.5h1M105 526.5h1M40 520.5h1M60 538.5h1M14 532.5h2M33 520.5h2M54 524.5h1M28 537.5h1M52 517.5h2M64 529.5h1M30 530.5h1M98 537.5h2M16 520.5h2M81 542.5h1M21 528.5h1M55 526.5h2M93 525.5h2M49 535.5h1M62 529.5h1M84 527.5h1M29 532.5h1M41 522.5h1M62 511.5h2M36 514.5h1M65 532.5h2M74 511.5h2M71 510.5h1M28 516.5h1M55 534.5h1M56 528.5h1M77 528.5h1M40 539.5h1M67 517.5h1M103 533.5h1M53 536.5h1M57 522.5h1M59 514.5h1M20 531.5h1M110 527.5h1M17 525.5h1M102 519.5h1M25 516.5h1M35 536.5h1M46 511.5h1M86 517.5h2M96 520.5h1M60 518.5h1M22 516.5h1M41 512.5h1M22 520.5h2M53 519.5h1M44 511.5h2M80 538.5h2M83 523.5h1M51 535.5h2M101 531.5h1M61 543.5h1M39 522.5h1M67 526.5h1M49 513.5h1M60 541.5h2M80 528.5h1M93 527.5h1M61 518.5h1M62 520.5h2M69 518.5h2M74 530.5h2M60 529.5h1M75 537.5h1M64 516.5h1M33 541.5h1M55 526.5h1M68 531.5h1M94 533.5h1M40 538.5h1M40 531.5h1M69 515.5h2M72 517.5h1M47 524.5h1M71 541.5h1M22 517.5h1M97 521.5h1M85 531.5h2M41 525.5h1M93 529.5h1M68 530.5h1M102 517.5h2M90 535.5h1M105 521.5h2M33 526.5h1M71 535.5h1M62 518.5h2M60 536.5h1M80 534.5h2M37 538.5h1M19 523.5h1M67 521.5h2M56 512.5h1M13 527.5h1M35 519.5h1M28 527.5h2M46 538.5h2M30 522.5h2M38 534.5h1M90 539.5h1M103 522.5h1M27 540.5h1M29 525.5h1M88 537.5h1M73 510.5h1M63 535.5h1M102 520.5h1M75 526.5h1M34 541.5h1M58 517.5h1M35 518.5h1M48 529.5h1M73 531.5h1M45 525.5h1M91 531.5h1M36 513.5h1M54 511.5h2M56 525.5h1M49 512.5h1M49 533.5h1M17 531.5h1M78 523.5h2M63 525.5h1M57 516.5h1M45 523.5h2M103 524.5h2M58 543.5h1M66 520.5h1M45 529.5h1M79 513.5h2M54 511.5h2M91 534.5h2M101 527.5h1M85 523.5h1M60 519.5h1M59 534.5h2M49 511.5h1M93 516.5h2M43 527.5h1M32 523.5h1M82 518.5h1M52 537.5h2M55 517.5h2M94 522.5h1M70 523.5h1M60 526.5h1M75 532.5h1M18 529.5h1M38 532.5h1M107 522.5h1M48 530.5h2M54 529.5h1M54 532.5h1M24 533.5h1M21 521.5h1M37 526.5h1M50 528.5h2M49 522.5h1M16 520.5h1M38 536.5h1M45 515.5h1M60 521.5h2M110 524.5h1M29 533.5h2M19 524.5h1M65 534.5h1M58 510.5h1M74 524.5h1M66 510.5h1M72 525.5h1M47 512.5h1M63 511.5h1M69 521.5h1M82 525.5h1M44 538.5h1M51 537.5h1M73 534.5h1M78 516.5h1M29 524.5h2M97 534.5h2M84 524.5h1M56 515.5h1M57 521.5h1M96 518.5h1M35 538.5h1M59 530.5h1M15 527.5h1M84 523.5h2M50 518.5h1M83 522.5h1M65 520.5h1M46 519.5h1" stroke="#d4d4d4" stroke-width="1" fill="none" shape-rendering="crispEdges"/>
<path d="M62 528.5h1M66 523.5h1M57 525.5h2M68 533.5h1M21 535.5h1M28 527.5h1M48 541.5h1M56 543.5h1M55 510.5h1M81 528.5h1M38 534.5h2M31 524.5h1M35 516.5h1M72 542.5h2M82 531.5h1M43 542.5h1M10 525.5h1M58 518.5h1M40 541.5h1M70 524.5h2M110 522.5h2M59 513.5h1M105 525.5h1M39 518.5h2M105 534.5h2M13 531.5h1M79 521.5h1M90 531.5h1M74 532.5h1M81 536.5h1M71 535.5h1M64 535.5h1M84 523.5h2M73 525.5h1M58 515.5h1M105 522.5h1M61 515.5h1M96 531.5h1M33 535.5h2M81 513.5h1M48 526.5h1M82 511.5h1M17 531.5h1M63 521.5h2M28 515.5h2M32 520.5h1M15 526.5h1M91 524.5h1M108 520.5h1M95 515.5h1M38 528.5h1M20 522.5h1M43 511.5h2M64 533.5h1M82 538.5h2M30 518.5h1M43 523.5h1M97 517.5h1M89 528.5h1M58 517.5h1M49 530.5h1M68 511.5h1M45 511.5h1M67 527.5h1M17 522.5h1M31 535.5h1M99 531.5h1M15 527.5h1M61 534.5h1M78 528.5h1M101 526.5h2M58 519.5h2M28 529.5h2M19 523.5h1M24 535.5h1M44 537.5h1M15 527.5h1M74 537.5h2M65 541.5h1M79 538.5h1M62 528.5h1M42 535.5h2M73 511.5h1M86 515.5h1M46 539.5h2M50 525.5h2M44 512.5h2M38 520.5h1M101 527.5h1M104 518.5h1M69 528.5h2M46 521.5h2M18 525.5h1M59 530.5h1M87 540.5h1M77 523.5h1M57 524.5h2M72 522.5h1M106 520.5h2M70 512.5h2M83 531.5h1M92 524.5h1M85 532.5h1M42 536.5h1M40 528.5h1M62 516.5h2M37 513.5h1M33 531.5h1M28 525.5h2M68 515.5h1M29 526.5h2M16 534.5h1M59 526.5h1M13 529.5h1M62 520.5h1M28 539.5h1M80 522.5h1M54 526.5h1M25 524.5h1M85 531.5h2M45 520.5h2M29 536.5h2M56 536.5h1M91 535.5h1M22 519.5h1M48 532.5h2M107 524.5h1M70 520.5h2M29 521.5h1M15 533.5h1M38 527.5h2M92 527.5h1M79 524.5h1M23 518.5h2M108 526.5h2M94 527.5h1M86 532.5h1M63 538.5h1M89 528.5h1M60 539.5h1M22 526.5h2M18 524.5h1M55 528.5h1M60 530.5h1M88 531.5h1M110 528.5h1M51 524.5h1M53 527.5h1M37 530.5h2M60 525.5h2M66 533.5h1M77 542.5h1M27 537.5h1M41 525.5h1M84 521.5h1M42 528.5h1M34 540.5h1M94 534.5h1M55 532.5h1M86 531.5h1M47 528.5h2M28 518.5h2M21 533.5h1M18 533.5h1M56 525.5h1M79 515.5h2M63 528.5h2M83 535.5h1M22 537.5h1M96 538.5h1M30 531.5h1M38 532.5h1M30 530.5h2M54 513.5h2" stroke="#9a9a9a" stroke-width="1" fill="none" shape-rendering="crispEdges" opacity="0.8"/>
<g class="san" fill="#333333" stroke="#333333" stroke-width="0.35" font-size="23">
<text x="22.0" y="531.9" textLength="27.6" lengthAdjust="spacingAndGlyphs">SM</text>
<text x="63.6" y="531.9" textLength="33.6" lengthAdjust="spacingAndGlyphs">delS</text>
</g>
<circle cx="55.6" cy="531.2" r="4.5" fill="#ffffff" stroke="#ff2200" stroke-width="1.8"/>
<path d="M37.6 538.8 l0.9 -1.2 l0.9 1.8 l0.9 -1.8 l0.9 1.8 l0.9 -1.8 l0.9 1.8 l0.9 -1.8 l0.9 1.8 l0.9 -1.2 L48.3 537.2 L51.8 534.4 M59.4 534.4 L62 536.6 L64.6 538.8 l0.9 -1.2 l0.9 1.8 l0.9 -1.8 l0.9 1.8 l0.9 -1.8 l0.9 1.8 l0.9 -1.8 l0.9 1.8 l0.9 -1.8 l0.9 1.8 l0.6 -0.9" fill="none" stroke="#ff2200" stroke-width="1.4" stroke-linejoin="round"/>
</g>
</svg></body></html>
